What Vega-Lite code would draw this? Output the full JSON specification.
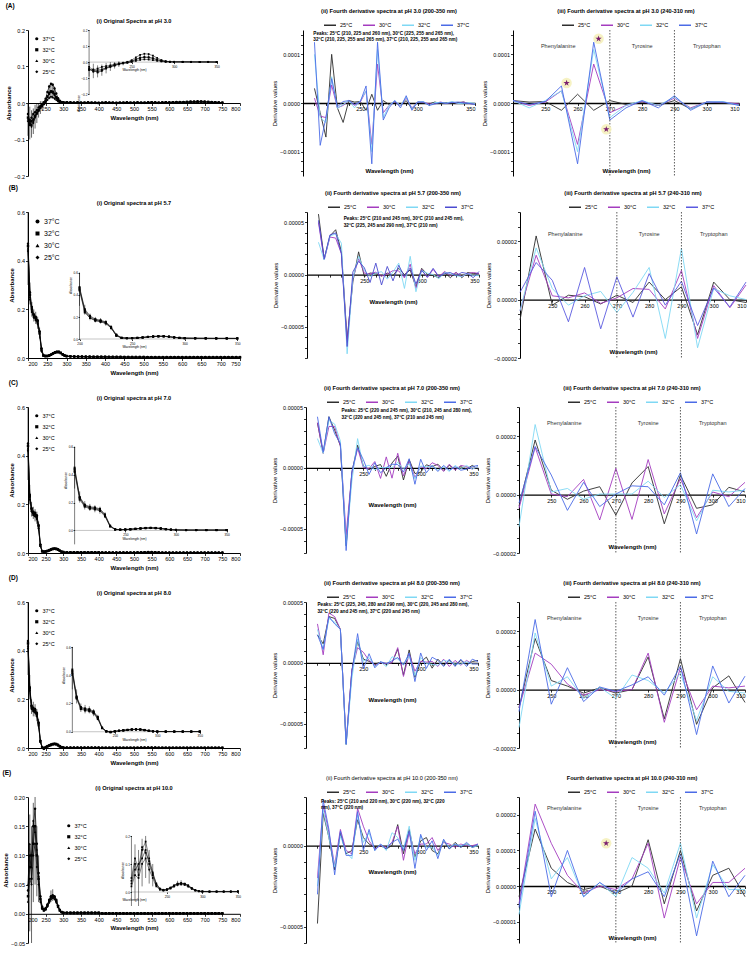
{
"$schema":"https://vega.github.io/schema/vega-lite/v6.json",
"padding":{"left":2,"top":2,"right":2,"bottom":2},
"config":{
 "font":"Liberation Sans",
 "view":{"stroke":null},
 "axis":{"grid":false,"labelOverlap":false,"labelFontSize":5.5,"titleFontSize":6,"tickSize":2.5,"tickWidth":0.8,"domainWidth":1,"domainColor":"#000","tickColor":"#000","labelColor":"#000","titleColor":"#000","labelPadding":1,"titlePadding":2,"titleFontWeight":"normal"},
 "title":{"fontSize":5.6,"fontWeight":"bold","offset":3,"color":"#000"},
 "legend":{"labelFontSize":5.5,"labelColor":"#000","padding":0,"offset":3,"rowPadding":1,"columnPadding":7,"labelOffset":3}
},
"resolve":{"scale":{"color":"independent","shape":"independent"},"legend":{"color":"independent","shape":"independent"}},
"datasets":{
 "dividers":[{"w":270},{"w":290}],
 "regions":[{"w":254,"label":"Phenylalanine"},{"w":280,"label":"Tyrosine"},{"w":300,"label":"Tryptophan"}],
 "starsA":[{"w":256.6,"v":4.1e-5},{"w":266.5,"v":1.32e-4},{"w":268.9,"v":-5.4e-5}],
 "starsE":[{"w":267,"v":1.2e-5}],
 "s3":[
{"w":200,"37°C":-0.03,"32°C":-0.04,"30°C":-0.045,"25°C":-0.05},
{"w":205,"37°C":-0.05,"32°C":-0.06,"30°C":-0.055,"25°C":-0.045},
{"w":210,"37°C":-0.04,"32°C":-0.05,"30°C":-0.06,"25°C":-0.065},
{"w":215,"37°C":-0.03,"32°C":-0.045,"30°C":-0.05,"25°C":-0.055},
{"w":220,"37°C":-0.025,"32°C":-0.035,"30°C":-0.035,"25°C":-0.04},
{"w":225,"37°C":-0.02,"32°C":-0.028,"30°C":-0.025,"25°C":-0.03},
{"w":230,"37°C":-0.012,"32°C":-0.02,"30°C":-0.018,"25°C":-0.022},
{"w":235,"37°C":-0.008,"32°C":-0.012,"30°C":-0.01,"25°C":-0.014},
{"w":240,"37°C":-0.004,"32°C":-0.007,"30°C":-0.006,"25°C":-0.008},
{"w":245,"37°C":0.002,"32°C":-0.002,"30°C":-0.002,"25°C":-0.004},
{"w":250,"37°C":0.012,"32°C":0.006,"30°C":0.004,"25°C":0.001},
{"w":255,"37°C":0.03,"32°C":0.018,"30°C":0.016,"25°C":0.008},
{"w":260,"37°C":0.045,"32°C":0.028,"30°C":0.025,"25°C":0.014},
{"w":265,"37°C":0.052,"32°C":0.032,"30°C":0.03,"25°C":0.017},
{"w":270,"37°C":0.05,"32°C":0.031,"30°C":0.028,"25°C":0.016},
{"w":275,"37°C":0.04,"32°C":0.025,"30°C":0.022,"25°C":0.012},
{"w":280,"37°C":0.026,"32°C":0.016,"30°C":0.014,"25°C":0.008},
{"w":285,"37°C":0.013,"32°C":0.009,"30°C":0.007,"25°C":0.004},
{"w":290,"37°C":0.006,"32°C":0.004,"30°C":0.003,"25°C":0.002},
{"w":295,"37°C":0.003,"32°C":0.002,"30°C":0.002,"25°C":0.001},
{"w":300,"37°C":0.002,"32°C":0.002,"30°C":0.001,"25°C":0.001},
{"w":310,"37°C":0.002,"32°C":0.002,"30°C":0.001,"25°C":0.001},
{"w":320,"37°C":0.002,"32°C":0.001,"30°C":0.001,"25°C":0.001},
{"w":330,"37°C":0.001,"32°C":0.001,"30°C":0.001,"25°C":0.001},
{"w":340,"37°C":0.002,"32°C":0.001,"30°C":0.001,"25°C":0},
{"w":350,"37°C":0.001,"32°C":0.001,"30°C":0,"25°C":0},
{"w":360,"37°C":0.001,"32°C":0.001,"30°C":0.001,"25°C":0},
{"w":370,"37°C":0.002,"32°C":0.001,"30°C":0.001,"25°C":0.001},
{"w":380,"37°C":0.001,"32°C":0.001,"30°C":0.001,"25°C":0},
{"w":390,"37°C":0.001,"32°C":0.001,"30°C":0,"25°C":0},
{"w":400,"37°C":0.001,"32°C":0,"30°C":0,"25°C":0},
{"w":410,"37°C":0.001,"32°C":0.001,"30°C":0,"25°C":0},
{"w":420,"37°C":0.002,"32°C":0.001,"30°C":0.001,"25°C":0},
{"w":430,"37°C":0.001,"32°C":0.001,"30°C":0.001,"25°C":0.001},
{"w":440,"37°C":0.001,"32°C":0.001,"30°C":0,"25°C":0},
{"w":450,"37°C":0.001,"32°C":0,"30°C":0,"25°C":0},
{"w":460,"37°C":0.001,"32°C":0.001,"30°C":0,"25°C":0},
{"w":470,"37°C":0.001,"32°C":0.001,"30°C":0.001,"25°C":0},
{"w":480,"37°C":0.002,"32°C":0.001,"30°C":0.001,"25°C":0.001},
{"w":490,"37°C":0.001,"32°C":0.001,"30°C":0,"25°C":0},
{"w":500,"37°C":0.001,"32°C":0.001,"30°C":0.001,"25°C":0},
{"w":510,"37°C":0.002,"32°C":0.001,"30°C":0.001,"25°C":0.001},
{"w":520,"37°C":0.001,"32°C":0.001,"30°C":0,"25°C":0},
{"w":530,"37°C":0.001,"32°C":0.001,"30°C":0.001,"25°C":0},
{"w":540,"37°C":0.002,"32°C":0.001,"30°C":0.001,"25°C":0.001},
{"w":550,"37°C":0.002,"32°C":0.002,"30°C":0.001,"25°C":0.001},
{"w":560,"37°C":0.002,"32°C":0.001,"30°C":0.001,"25°C":0.001},
{"w":570,"37°C":0.001,"32°C":0.001,"30°C":0.001,"25°C":0},
{"w":580,"37°C":0.002,"32°C":0.001,"30°C":0.001,"25°C":0.001},
{"w":590,"37°C":0.002,"32°C":0.002,"30°C":0.001,"25°C":0.001},
{"w":600,"37°C":0.002,"32°C":0.001,"30°C":0.001,"25°C":0.001},
{"w":610,"37°C":0.002,"32°C":0.002,"30°C":0.001,"25°C":0.001},
{"w":620,"37°C":0.003,"32°C":0.002,"30°C":0.001,"25°C":0.001},
{"w":630,"37°C":0.003,"32°C":0.002,"30°C":0.002,"25°C":0.001},
{"w":640,"37°C":0.003,"32°C":0.002,"30°C":0.002,"25°C":0.001},
{"w":650,"37°C":0.003,"32°C":0.003,"30°C":0.002,"25°C":0.001},
{"w":660,"37°C":0.004,"32°C":0.003,"30°C":0.002,"25°C":0.002},
{"w":670,"37°C":0.004,"32°C":0.003,"30°C":0.002,"25°C":0.002},
{"w":680,"37°C":0.005,"32°C":0.003,"30°C":0.003,"25°C":0.002},
{"w":690,"37°C":0.004,"32°C":0.004,"30°C":0.003,"25°C":0.002},
{"w":700,"37°C":0.004,"32°C":0.003,"30°C":0.003,"25°C":0.002},
{"w":710,"37°C":0.003,"32°C":0.003,"30°C":0.002,"25°C":0.002},
{"w":720,"37°C":0.003,"32°C":0.002,"30°C":0.002,"25°C":0.001},
{"w":730,"37°C":0.002,"32°C":0.002,"30°C":0.001,"25°C":0.001},
{"w":740,"37°C":0.002,"32°C":0.001,"30°C":0.001,"25°C":0.001},
{"w":750,"37°C":0.001,"32°C":0.001,"30°C":0.001,"25°C":0}
 ],
 "e3":[{"w":200,"lo":-0.09,"hi":0.0},{"w":205,"lo":-0.1,"hi":-0.01},{"w":210,"lo":-0.095,"hi":-0.02},{"w":215,"lo":-0.085,"hi":-0.015},{"w":220,"lo":-0.07,"hi":-0.005},{"w":225,"lo":-0.055,"hi":0.0},{"w":230,"lo":-0.04,"hi":0.0},{"w":235,"lo":-0.03,"hi":0.005},{"w":240,"lo":-0.02,"hi":0.005},{"w":260,"lo":0.01,"hi":0.05},{"w":265,"lo":0.012,"hi":0.057},{"w":270,"lo":0.012,"hi":0.055},{"w":275,"lo":0.008,"hi":0.045}],
 "s57":[
{"w":200,"37°C":0.47,"32°C":0.46,"30°C":0.45,"25°C":0.44},
{"w":205,"37°C":0.27,"32°C":0.26,"30°C":0.25,"25°C":0.24},
{"w":210,"37°C":0.21,"32°C":0.2,"30°C":0.19,"25°C":0.19},
{"w":215,"37°C":0.18,"32°C":0.175,"30°C":0.17,"25°C":0.165},
{"w":220,"37°C":0.17,"32°C":0.165,"30°C":0.16,"25°C":0.155},
{"w":225,"37°C":0.155,"32°C":0.15,"30°C":0.145,"25°C":0.14},
{"w":230,"37°C":0.11,"32°C":0.105,"30°C":0.1,"25°C":0.1},
{"w":235,"37°C":0.04,"32°C":0.035,"30°C":0.03,"25°C":0.03},
{"w":240,"37°C":0.012,"32°C":0.01,"30°C":0.01,"25°C":0.009},
{"w":245,"37°C":0.009,"32°C":0.008,"30°C":0.007,"25°C":0.007},
{"w":250,"37°C":0.009,"32°C":0.008,"30°C":0.008,"25°C":0.007},
{"w":255,"37°C":0.011,"32°C":0.01,"30°C":0.01,"25°C":0.009},
{"w":260,"37°C":0.015,"32°C":0.014,"30°C":0.013,"25°C":0.013},
{"w":265,"37°C":0.02,"32°C":0.019,"30°C":0.018,"25°C":0.018},
{"w":270,"37°C":0.024,"32°C":0.023,"30°C":0.022,"25°C":0.021},
{"w":275,"37°C":0.026,"32°C":0.025,"30°C":0.024,"25°C":0.023},
{"w":280,"37°C":0.026,"32°C":0.025,"30°C":0.024,"25°C":0.023},
{"w":285,"37°C":0.022,"32°C":0.021,"30°C":0.02,"25°C":0.02},
{"w":290,"37°C":0.016,"32°C":0.015,"30°C":0.014,"25°C":0.014},
{"w":295,"37°C":0.011,"32°C":0.01,"30°C":0.01,"25°C":0.009},
{"w":300,"37°C":0.008,"32°C":0.008,"30°C":0.007,"25°C":0.007},
{"w":310,"37°C":0.007,"32°C":0.007,"30°C":0.006,"25°C":0.006},
{"w":320,"37°C":0.007,"32°C":0.006,"30°C":0.006,"25°C":0.005},
{"w":330,"37°C":0.006,"32°C":0.006,"30°C":0.005,"25°C":0.005},
{"w":340,"37°C":0.006,"32°C":0.006,"30°C":0.005,"25°C":0.005},
{"w":350,"37°C":0.006,"32°C":0.005,"30°C":0.005,"25°C":0.005},
{"w":360,"37°C":0.006,"32°C":0.005,"30°C":0.005,"25°C":0.004},
{"w":370,"37°C":0.005,"32°C":0.005,"30°C":0.005,"25°C":0.004},
{"w":380,"37°C":0.005,"32°C":0.005,"30°C":0.004,"25°C":0.004},
{"w":390,"37°C":0.005,"32°C":0.005,"30°C":0.004,"25°C":0.004},
{"w":400,"37°C":0.005,"32°C":0.005,"30°C":0.004,"25°C":0.004},
{"w":410,"37°C":0.005,"32°C":0.004,"30°C":0.004,"25°C":0.004},
{"w":420,"37°C":0.005,"32°C":0.004,"30°C":0.004,"25°C":0.004},
{"w":430,"37°C":0.005,"32°C":0.004,"30°C":0.004,"25°C":0.003},
{"w":440,"37°C":0.005,"32°C":0.004,"30°C":0.004,"25°C":0.003},
{"w":450,"37°C":0.004,"32°C":0.004,"30°C":0.004,"25°C":0.003},
{"w":460,"37°C":0.004,"32°C":0.004,"30°C":0.004,"25°C":0.003},
{"w":470,"37°C":0.004,"32°C":0.004,"30°C":0.003,"25°C":0.003},
{"w":480,"37°C":0.004,"32°C":0.004,"30°C":0.003,"25°C":0.003},
{"w":490,"37°C":0.004,"32°C":0.004,"30°C":0.003,"25°C":0.003},
{"w":500,"37°C":0.004,"32°C":0.004,"30°C":0.003,"25°C":0.003},
{"w":510,"37°C":0.004,"32°C":0.003,"30°C":0.003,"25°C":0.003},
{"w":520,"37°C":0.004,"32°C":0.003,"30°C":0.003,"25°C":0.003},
{"w":530,"37°C":0.004,"32°C":0.003,"30°C":0.003,"25°C":0.003},
{"w":540,"37°C":0.004,"32°C":0.003,"30°C":0.003,"25°C":0.003},
{"w":550,"37°C":0.004,"32°C":0.003,"30°C":0.003,"25°C":0.003},
{"w":560,"37°C":0.004,"32°C":0.003,"30°C":0.003,"25°C":0.003},
{"w":570,"37°C":0.004,"32°C":0.003,"30°C":0.003,"25°C":0.003},
{"w":580,"37°C":0.004,"32°C":0.003,"30°C":0.003,"25°C":0.003},
{"w":590,"37°C":0.004,"32°C":0.003,"30°C":0.003,"25°C":0.003},
{"w":600,"37°C":0.004,"32°C":0.003,"30°C":0.003,"25°C":0.003},
{"w":610,"37°C":0.004,"32°C":0.003,"30°C":0.003,"25°C":0.003},
{"w":620,"37°C":0.004,"32°C":0.003,"30°C":0.003,"25°C":0.003},
{"w":630,"37°C":0.004,"32°C":0.003,"30°C":0.003,"25°C":0.003},
{"w":640,"37°C":0.004,"32°C":0.003,"30°C":0.003,"25°C":0.003},
{"w":650,"37°C":0.004,"32°C":0.003,"30°C":0.003,"25°C":0.003},
{"w":660,"37°C":0.004,"32°C":0.003,"30°C":0.003,"25°C":0.003},
{"w":670,"37°C":0.004,"32°C":0.003,"30°C":0.003,"25°C":0.003},
{"w":680,"37°C":0.004,"32°C":0.003,"30°C":0.003,"25°C":0.003},
{"w":690,"37°C":0.004,"32°C":0.003,"30°C":0.003,"25°C":0.003},
{"w":700,"37°C":0.004,"32°C":0.003,"30°C":0.003,"25°C":0.003},
{"w":710,"37°C":0.004,"32°C":0.003,"30°C":0.003,"25°C":0.003},
{"w":720,"37°C":0.004,"32°C":0.003,"30°C":0.003,"25°C":0.003},
{"w":730,"37°C":0.004,"32°C":0.003,"30°C":0.003,"25°C":0.003},
{"w":740,"37°C":0.004,"32°C":0.003,"30°C":0.003,"25°C":0.003},
{"w":750,"37°C":0.004,"32°C":0.003,"30°C":0.003,"25°C":0.003}
 ],
 "e57":[{"w":200,"lo":0.3,"hi":0.6},{"w":205,"lo":0.22,"hi":0.31},{"w":210,"lo":0.17,"hi":0.23},{"w":215,"lo":0.15,"hi":0.2},{"w":220,"lo":0.14,"hi":0.19},{"w":225,"lo":0.12,"hi":0.17},{"w":230,"lo":0.08,"hi":0.125},{"w":235,"lo":0.02,"hi":0.05},{"w":275,"lo":0.02,"hi":0.03},{"w":280,"lo":0.02,"hi":0.03}],
 "s70":[
{"w":200,"37°C":0.45,"32°C":0.44,"30°C":0.43,"25°C":0.42},
{"w":205,"37°C":0.24,"32°C":0.235,"30°C":0.23,"25°C":0.22},
{"w":210,"37°C":0.185,"32°C":0.18,"30°C":0.175,"25°C":0.17},
{"w":215,"37°C":0.17,"32°C":0.165,"30°C":0.16,"25°C":0.155},
{"w":220,"37°C":0.165,"32°C":0.16,"30°C":0.155,"25°C":0.15},
{"w":225,"37°C":0.155,"32°C":0.15,"30°C":0.145,"25°C":0.14},
{"w":230,"37°C":0.115,"32°C":0.11,"30°C":0.105,"25°C":0.1},
{"w":235,"37°C":0.035,"32°C":0.032,"30°C":0.03,"25°C":0.028},
{"w":240,"37°C":0.008,"32°C":0.007,"30°C":0.007,"25°C":0.006},
{"w":245,"37°C":0.006,"32°C":0.005,"30°C":0.005,"25°C":0.005},
{"w":250,"37°C":0.007,"32°C":0.006,"30°C":0.006,"25°C":0.006},
{"w":255,"37°C":0.009,"32°C":0.008,"30°C":0.008,"25°C":0.007},
{"w":260,"37°C":0.012,"32°C":0.011,"30°C":0.011,"25°C":0.01},
{"w":265,"37°C":0.015,"32°C":0.014,"30°C":0.014,"25°C":0.013},
{"w":270,"37°C":0.018,"32°C":0.017,"30°C":0.016,"25°C":0.016},
{"w":275,"37°C":0.019,"32°C":0.018,"30°C":0.017,"25°C":0.017},
{"w":280,"37°C":0.018,"32°C":0.017,"30°C":0.016,"25°C":0.016},
{"w":285,"37°C":0.015,"32°C":0.014,"30°C":0.013,"25°C":0.013},
{"w":290,"37°C":0.01,"32°C":0.009,"30°C":0.009,"25°C":0.008},
{"w":295,"37°C":0.006,"32°C":0.005,"30°C":0.005,"25°C":0.005},
{"w":300,"37°C":0.004,"32°C":0.004,"30°C":0.003,"25°C":0.003},
{"w":310,"37°C":0.003,"32°C":0.003,"30°C":0.002,"25°C":0.002},
{"w":320,"37°C":0.003,"32°C":0.003,"30°C":0.002,"25°C":0.002},
{"w":330,"37°C":0.003,"32°C":0.003,"30°C":0.002,"25°C":0.002},
{"w":340,"37°C":0.003,"32°C":0.003,"30°C":0.002,"25°C":0.002},
{"w":350,"37°C":0.003,"32°C":0.003,"30°C":0.002,"25°C":0.002},
{"w":360,"37°C":0.003,"32°C":0.003,"30°C":0.002,"25°C":0.002},
{"w":370,"37°C":0.003,"32°C":0.003,"30°C":0.002,"25°C":0.002},
{"w":380,"37°C":0.003,"32°C":0.003,"30°C":0.002,"25°C":0.002},
{"w":390,"37°C":0.003,"32°C":0.003,"30°C":0.002,"25°C":0.002},
{"w":400,"37°C":0.003,"32°C":0.003,"30°C":0.002,"25°C":0.002},
{"w":410,"37°C":0.002,"32°C":0.002,"30°C":0.002,"25°C":0.001},
{"w":420,"37°C":0.002,"32°C":0.002,"30°C":0.002,"25°C":0.001},
{"w":430,"37°C":0.002,"32°C":0.002,"30°C":0.002,"25°C":0.001},
{"w":440,"37°C":0.002,"32°C":0.002,"30°C":0.002,"25°C":0.001},
{"w":450,"37°C":0.002,"32°C":0.002,"30°C":0.002,"25°C":0.001},
{"w":460,"37°C":0.002,"32°C":0.002,"30°C":0.002,"25°C":0.001},
{"w":470,"37°C":0.002,"32°C":0.002,"30°C":0.002,"25°C":0.001},
{"w":480,"37°C":0.002,"32°C":0.002,"30°C":0.002,"25°C":0.001},
{"w":490,"37°C":0.002,"32°C":0.002,"30°C":0.002,"25°C":0.001},
{"w":500,"37°C":0.002,"32°C":0.002,"30°C":0.002,"25°C":0.001},
{"w":510,"37°C":0.003,"32°C":0.002,"30°C":0.002,"25°C":0.002},
{"w":520,"37°C":0.003,"32°C":0.002,"30°C":0.002,"25°C":0.002},
{"w":530,"37°C":0.003,"32°C":0.003,"30°C":0.002,"25°C":0.002},
{"w":540,"37°C":0.004,"32°C":0.003,"30°C":0.003,"25°C":0.002},
{"w":550,"37°C":0.004,"32°C":0.003,"30°C":0.003,"25°C":0.002},
{"w":560,"37°C":0.003,"32°C":0.003,"30°C":0.002,"25°C":0.002},
{"w":570,"37°C":0.003,"32°C":0.002,"30°C":0.002,"25°C":0.002},
{"w":580,"37°C":0.002,"32°C":0.001,"30°C":0.001,"25°C":0.001},
{"w":590,"37°C":0.002,"32°C":0.001,"30°C":0.001,"25°C":0.001},
{"w":600,"37°C":0.002,"32°C":0.001,"30°C":0.001,"25°C":0.001},
{"w":610,"37°C":0.002,"32°C":0.001,"30°C":0.001,"25°C":0.001},
{"w":620,"37°C":0.002,"32°C":0.001,"30°C":0.001,"25°C":0.001},
{"w":630,"37°C":0.002,"32°C":0.001,"30°C":0.001,"25°C":0.001},
{"w":640,"37°C":0.002,"32°C":0.001,"30°C":0.001,"25°C":0.001},
{"w":650,"37°C":0.002,"32°C":0.001,"30°C":0.001,"25°C":0.001},
{"w":660,"37°C":0.002,"32°C":0.001,"30°C":0.001,"25°C":0.001},
{"w":670,"37°C":0.002,"32°C":0.001,"30°C":0.001,"25°C":0.001},
{"w":680,"37°C":0.002,"32°C":0.001,"30°C":0.001,"25°C":0.001},
{"w":690,"37°C":0.002,"32°C":0.001,"30°C":0.001,"25°C":0.001},
{"w":700,"37°C":0.002,"32°C":0.001,"30°C":0.001,"25°C":0.001},
{"w":710,"37°C":0.002,"32°C":0.001,"30°C":0.001,"25°C":0.001},
{"w":720,"37°C":0.002,"32°C":0.001,"30°C":0.001,"25°C":0.001},
{"w":730,"37°C":0.002,"32°C":0.001,"30°C":0.001,"25°C":0.001},
{"w":740,"37°C":0.002,"32°C":0.001,"30°C":0.001,"25°C":0.001},
{"w":750,"37°C":0.002,"32°C":0.001,"30°C":0.001,"25°C":0.001}
 ],
 "e70":[{"w":200,"lo":0.3,"hi":0.6},{"w":205,"lo":0.2,"hi":0.28},{"w":210,"lo":0.15,"hi":0.21},{"w":215,"lo":0.14,"hi":0.19},{"w":220,"lo":0.13,"hi":0.18},{"w":225,"lo":0.12,"hi":0.17},{"w":230,"lo":0.09,"hi":0.13}],
 "s80":[
{"w":200,"37°C":0.44,"32°C":0.43,"30°C":0.42,"25°C":0.41},
{"w":205,"37°C":0.25,"32°C":0.245,"30°C":0.24,"25°C":0.235},
{"w":210,"37°C":0.175,"32°C":0.17,"30°C":0.165,"25°C":0.16},
{"w":215,"37°C":0.165,"32°C":0.16,"30°C":0.155,"25°C":0.15},
{"w":220,"37°C":0.16,"32°C":0.155,"30°C":0.15,"25°C":0.145},
{"w":225,"37°C":0.145,"32°C":0.14,"30°C":0.135,"25°C":0.13},
{"w":230,"37°C":0.105,"32°C":0.1,"30°C":0.095,"25°C":0.09},
{"w":235,"37°C":0.03,"32°C":0.028,"30°C":0.026,"25°C":0.025},
{"w":240,"37°C":0.004,"32°C":0.003,"30°C":0.002,"25°C":0.002},
{"w":245,"37°C":0,"32°C":-0.002,"30°C":-0.003,"25°C":-0.004},
{"w":250,"37°C":0.004,"32°C":0.003,"30°C":0.002,"25°C":0.002},
{"w":255,"37°C":0.008,"32°C":0.007,"30°C":0.006,"25°C":0.006},
{"w":260,"37°C":0.011,"32°C":0.01,"30°C":0.009,"25°C":0.009},
{"w":265,"37°C":0.014,"32°C":0.013,"30°C":0.012,"25°C":0.012},
{"w":270,"37°C":0.017,"32°C":0.016,"30°C":0.015,"25°C":0.015},
{"w":275,"37°C":0.018,"32°C":0.017,"30°C":0.016,"25°C":0.016},
{"w":280,"37°C":0.017,"32°C":0.016,"30°C":0.015,"25°C":0.015},
{"w":285,"37°C":0.013,"32°C":0.012,"30°C":0.011,"25°C":0.011},
{"w":290,"37°C":0.008,"32°C":0.007,"30°C":0.006,"25°C":0.006},
{"w":295,"37°C":0.004,"32°C":0.003,"30°C":0.003,"25°C":0.003},
{"w":300,"37°C":0.002,"32°C":0.002,"30°C":0.001,"25°C":0.001},
{"w":310,"37°C":0.002,"32°C":0.001,"30°C":0.001,"25°C":0.001},
{"w":320,"37°C":0.002,"32°C":0.001,"30°C":0.001,"25°C":0.001},
{"w":330,"37°C":0.002,"32°C":0.001,"30°C":0.001,"25°C":0.001},
{"w":340,"37°C":0.002,"32°C":0.001,"30°C":0.001,"25°C":0.001},
{"w":350,"37°C":0.002,"32°C":0.001,"30°C":0.001,"25°C":0.001},
{"w":360,"37°C":0.002,"32°C":0.001,"30°C":0.001,"25°C":0.001},
{"w":370,"37°C":0.002,"32°C":0.001,"30°C":0.001,"25°C":0.001},
{"w":380,"37°C":0.002,"32°C":0.001,"30°C":0.001,"25°C":0.001},
{"w":390,"37°C":0.002,"32°C":0.001,"30°C":0.001,"25°C":0.001},
{"w":400,"37°C":0.002,"32°C":0.001,"30°C":0.001,"25°C":0.001},
{"w":410,"37°C":0.001,"32°C":0.001,"30°C":0,"25°C":0},
{"w":420,"37°C":0.001,"32°C":0.001,"30°C":0,"25°C":0},
{"w":430,"37°C":0.001,"32°C":0.001,"30°C":0,"25°C":0},
{"w":440,"37°C":0.001,"32°C":0.001,"30°C":0,"25°C":0},
{"w":450,"37°C":0.001,"32°C":0.001,"30°C":0,"25°C":0},
{"w":460,"37°C":0.001,"32°C":0.001,"30°C":0,"25°C":0},
{"w":470,"37°C":0.001,"32°C":0.001,"30°C":0,"25°C":0},
{"w":480,"37°C":0.001,"32°C":0.001,"30°C":0,"25°C":0},
{"w":490,"37°C":0.001,"32°C":0.001,"30°C":0,"25°C":0},
{"w":500,"37°C":0.001,"32°C":0.001,"30°C":0,"25°C":0},
{"w":510,"37°C":0.001,"32°C":0.001,"30°C":0,"25°C":0},
{"w":520,"37°C":0.002,"32°C":0.001,"30°C":0.001,"25°C":0.001},
{"w":530,"37°C":0.002,"32°C":0.001,"30°C":0.001,"25°C":0.001},
{"w":540,"37°C":0.002,"32°C":0.001,"30°C":0.001,"25°C":0.001},
{"w":550,"37°C":0.002,"32°C":0.001,"30°C":0.001,"25°C":0.001},
{"w":560,"37°C":0.002,"32°C":0.001,"30°C":0.001,"25°C":0.001},
{"w":570,"37°C":0.001,"32°C":0.001,"30°C":0,"25°C":0},
{"w":580,"37°C":0.001,"32°C":0.001,"30°C":0,"25°C":0},
{"w":590,"37°C":0.001,"32°C":0.001,"30°C":0,"25°C":0},
{"w":600,"37°C":0.001,"32°C":0.001,"30°C":0,"25°C":0},
{"w":610,"37°C":0.001,"32°C":0.001,"30°C":0,"25°C":0},
{"w":620,"37°C":0.001,"32°C":0.001,"30°C":0,"25°C":0},
{"w":630,"37°C":0.001,"32°C":0.001,"30°C":0,"25°C":0},
{"w":640,"37°C":0.001,"32°C":0.001,"30°C":0,"25°C":0},
{"w":650,"37°C":0.001,"32°C":0.001,"30°C":0,"25°C":0},
{"w":660,"37°C":0.001,"32°C":0.001,"30°C":0,"25°C":0},
{"w":670,"37°C":0.001,"32°C":0.001,"30°C":0,"25°C":0},
{"w":680,"37°C":0.001,"32°C":0.001,"30°C":0,"25°C":0},
{"w":690,"37°C":0.001,"32°C":0.001,"30°C":0,"25°C":0},
{"w":700,"37°C":0.001,"32°C":0.001,"30°C":0,"25°C":0},
{"w":710,"37°C":0.001,"32°C":0.001,"30°C":0,"25°C":0},
{"w":720,"37°C":0.001,"32°C":0.001,"30°C":0,"25°C":0},
{"w":730,"37°C":0.001,"32°C":0.001,"30°C":0,"25°C":0},
{"w":740,"37°C":0.001,"32°C":0.001,"30°C":0,"25°C":0},
{"w":750,"37°C":0.001,"32°C":0.001,"30°C":0,"25°C":0}
 ],
 "e80":[{"w":200,"lo":0.3,"hi":0.6},{"w":205,"lo":0.2,"hi":0.3},{"w":210,"lo":0.14,"hi":0.2},{"w":215,"lo":0.13,"hi":0.19},{"w":220,"lo":0.13,"hi":0.18},{"w":225,"lo":0.11,"hi":0.16},{"w":230,"lo":0.08,"hi":0.12}],
 "s10":[
{"w":200,"37°C":0.04,"32°C":0.03,"30°C":0.05,"25°C":0.02},
{"w":205,"37°C":0.1,"32°C":0.08,"30°C":0.12,"25°C":0.06},
{"w":210,"37°C":0.06,"32°C":0.1,"30°C":0.08,"25°C":0.05},
{"w":215,"37°C":0.15,"32°C":0.12,"30°C":0.16,"25°C":0.1},
{"w":220,"37°C":0.18,"32°C":0.15,"30°C":0.14,"25°C":0.12},
{"w":225,"37°C":0.12,"32°C":0.1,"30°C":0.11,"25°C":0.08},
{"w":230,"37°C":0.07,"32°C":0.06,"30°C":0.065,"25°C":0.05},
{"w":235,"37°C":0.03,"32°C":0.025,"30°C":0.03,"25°C":0.02},
{"w":240,"37°C":0.012,"32°C":0.01,"30°C":0.012,"25°C":0.008},
{"w":245,"37°C":0.008,"32°C":0.006,"30°C":0.007,"25°C":0.005},
{"w":250,"37°C":0.01,"32°C":0.008,"30°C":0.009,"25°C":0.007},
{"w":255,"37°C":0.016,"32°C":0.014,"30°C":0.015,"25°C":0.012},
{"w":260,"37°C":0.024,"32°C":0.022,"30°C":0.023,"25°C":0.019},
{"w":265,"37°C":0.03,"32°C":0.028,"30°C":0.029,"25°C":0.025},
{"w":270,"37°C":0.032,"32°C":0.03,"30°C":0.031,"25°C":0.027},
{"w":275,"37°C":0.03,"32°C":0.028,"30°C":0.029,"25°C":0.025},
{"w":280,"37°C":0.024,"32°C":0.022,"30°C":0.023,"25°C":0.019},
{"w":285,"37°C":0.014,"32°C":0.013,"30°C":0.013,"25°C":0.011},
{"w":290,"37°C":0.007,"32°C":0.006,"30°C":0.006,"25°C":0.005},
{"w":295,"37°C":0.003,"32°C":0.003,"30°C":0.003,"25°C":0.002},
{"w":300,"37°C":0.002,"32°C":0.002,"30°C":0.002,"25°C":0.001},
{"w":310,"37°C":0.002,"32°C":0.002,"30°C":0.001,"25°C":0.001},
{"w":320,"37°C":0.002,"32°C":0.002,"30°C":0.001,"25°C":0.001},
{"w":330,"37°C":0.002,"32°C":0.002,"30°C":0.001,"25°C":0.001},
{"w":340,"37°C":0.002,"32°C":0.002,"30°C":0.001,"25°C":0.001},
{"w":350,"37°C":0.002,"32°C":0.002,"30°C":0.001,"25°C":0.001},
{"w":360,"37°C":0.002,"32°C":0.002,"30°C":0.001,"25°C":0.001},
{"w":370,"37°C":0.002,"32°C":0.002,"30°C":0.001,"25°C":0.001},
{"w":380,"37°C":0.002,"32°C":0.002,"30°C":0.001,"25°C":0.001},
{"w":390,"37°C":0.002,"32°C":0.002,"30°C":0.001,"25°C":0.001},
{"w":400,"37°C":0.002,"32°C":0.002,"30°C":0.001,"25°C":0.001},
{"w":410,"37°C":0.001,"32°C":0.001,"30°C":0.001,"25°C":0},
{"w":420,"37°C":0.001,"32°C":0.001,"30°C":0.001,"25°C":0},
{"w":430,"37°C":0.001,"32°C":0.001,"30°C":0.001,"25°C":0},
{"w":440,"37°C":0.001,"32°C":0.001,"30°C":0.001,"25°C":0},
{"w":450,"37°C":0.001,"32°C":0.001,"30°C":0.001,"25°C":0},
{"w":460,"37°C":0.001,"32°C":0.001,"30°C":0.001,"25°C":0},
{"w":470,"37°C":0.001,"32°C":0.001,"30°C":0.001,"25°C":0},
{"w":480,"37°C":0.001,"32°C":0.001,"30°C":0.001,"25°C":0},
{"w":490,"37°C":0.001,"32°C":0.001,"30°C":0.001,"25°C":0},
{"w":500,"37°C":0.001,"32°C":0.001,"30°C":0.001,"25°C":0},
{"w":510,"37°C":0.001,"32°C":0.001,"30°C":0.001,"25°C":0},
{"w":520,"37°C":0.001,"32°C":0.001,"30°C":0.001,"25°C":0},
{"w":530,"37°C":0.001,"32°C":0.001,"30°C":0.001,"25°C":0},
{"w":540,"37°C":0.001,"32°C":0.001,"30°C":0.001,"25°C":0},
{"w":550,"37°C":0.001,"32°C":0.001,"30°C":0.001,"25°C":0},
{"w":560,"37°C":0.001,"32°C":0.001,"30°C":0.001,"25°C":0},
{"w":570,"37°C":0.001,"32°C":0.001,"30°C":0.001,"25°C":0},
{"w":580,"37°C":0.001,"32°C":0.001,"30°C":0.001,"25°C":0},
{"w":590,"37°C":0.001,"32°C":0.001,"30°C":0.001,"25°C":0},
{"w":600,"37°C":0.001,"32°C":0.001,"30°C":0.001,"25°C":0},
{"w":610,"37°C":0.001,"32°C":0.001,"30°C":0.001,"25°C":0},
{"w":620,"37°C":0.001,"32°C":0.001,"30°C":0.001,"25°C":0},
{"w":630,"37°C":0.001,"32°C":0.001,"30°C":0.001,"25°C":0},
{"w":640,"37°C":0.001,"32°C":0.001,"30°C":0.001,"25°C":0},
{"w":650,"37°C":0.001,"32°C":0.001,"30°C":0.001,"25°C":0},
{"w":660,"37°C":0.001,"32°C":0.001,"30°C":0.001,"25°C":0},
{"w":670,"37°C":0.001,"32°C":0.001,"30°C":0.001,"25°C":0},
{"w":680,"37°C":0.001,"32°C":0.001,"30°C":0.001,"25°C":0},
{"w":690,"37°C":0.001,"32°C":0.001,"30°C":0.001,"25°C":0},
{"w":700,"37°C":0.001,"32°C":0.001,"30°C":0.001,"25°C":0},
{"w":710,"37°C":0.001,"32°C":0.001,"30°C":0.001,"25°C":0},
{"w":720,"37°C":0.001,"32°C":0.001,"30°C":0.001,"25°C":0},
{"w":730,"37°C":0.001,"32°C":0.001,"30°C":0.001,"25°C":0},
{"w":740,"37°C":0.001,"32°C":0.001,"30°C":0.001,"25°C":0},
{"w":750,"37°C":0.001,"32°C":0.001,"30°C":0.001,"25°C":0}
 ],
 "e10":[{"w":205,"lo":-0.03,"hi":0.17},{"w":210,"lo":-0.05,"hi":0.15},{"w":215,"lo":0.02,"hi":0.19},{"w":220,"lo":0.05,"hi":0.2},{"w":225,"lo":0.03,"hi":0.15},{"w":230,"lo":0.02,"hi":0.1},{"w":265,"lo":0.02,"hi":0.04},{"w":270,"lo":0.022,"hi":0.042}],
 "d3":[
{"w":210,"25°C":3e-5,"30°C":1e-5,"32°C":1e-4,"37°C":1.25e-4},
{"w":215,"25°C":-2e-5,"30°C":-2.7e-5,"32°C":-3e-5,"37°C":-8.7e-5},
{"w":220,"25°C":-7e-5,"30°C":-3e-5,"32°C":-4e-5,"37°C":-3e-5},
{"w":225,"25°C":1e-4,"30°C":3.7e-5,"32°C":5.4e-5,"37°C":5e-5},
{"w":230,"25°C":-1e-5,"30°C":-1e-5,"32°C":-1.1e-5,"37°C":-8e-6},
{"w":235,"25°C":-4e-5,"30°C":-5e-6,"32°C":-3e-6,"37°C":3e-6},
{"w":240,"25°C":5e-6,"30°C":5e-6,"32°C":5e-6,"37°C":5e-6},
{"w":245,"25°C":2e-6,"30°C":-5e-6,"32°C":-1e-5,"37°C":-3e-6},
{"w":250,"25°C":3e-6,"30°C":2e-6,"32°C":5e-6,"37°C":3e-6},
{"w":255,"25°C":-1.5e-5,"30°C":2.5e-5,"32°C":2.5e-5,"37°C":3.5e-5},
{"w":260,"25°C":1.8e-5,"30°C":-8.5e-5,"32°C":-1e-4,"37°C":-1.25e-4},
{"w":265,"25°C":-1.5e-5,"30°C":8e-5,"32°C":1.1e-4,"37°C":1.25e-4},
{"w":270,"25°C":5e-6,"30°C":-2e-5,"32°C":-3e-5,"37°C":-3.5e-5},
{"w":275,"25°C":-3e-6,"30°C":-5e-6,"32°C":-5e-6,"37°C":-1e-5},
{"w":280,"25°C":2e-6,"30°C":3e-6,"32°C":5e-6,"37°C":5e-6},
{"w":285,"25°C":-5e-6,"30°C":-5e-6,"32°C":-5e-6,"37°C":-1e-5},
{"w":290,"25°C":5e-6,"30°C":1e-5,"32°C":1.2e-5,"37°C":1.5e-5},
{"w":295,"25°C":-1.2e-5,"30°C":-1e-5,"32°C":-1.2e-5,"37°C":-1.5e-5},
{"w":300,"25°C":2e-6,"30°C":2e-6,"32°C":2e-6,"37°C":2e-6},
{"w":305,"25°C":0,"30°C":2e-6,"32°C":3e-6,"37°C":2e-6},
{"w":310,"25°C":-2e-6,"30°C":-2e-6,"32°C":-5e-6,"37°C":-5e-6},
{"w":315,"25°C":2e-6,"30°C":-1e-6,"32°C":1e-6,"37°C":-2e-6},
{"w":320,"25°C":-1e-6,"30°C":2e-6,"32°C":1e-6,"37°C":1e-6},
{"w":325,"25°C":1e-6,"30°C":-1e-6,"32°C":0,"37°C":-1e-6},
{"w":330,"25°C":-1e-6,"30°C":2e-6,"32°C":3e-6,"37°C":1e-6},
{"w":335,"25°C":1e-6,"30°C":-1e-6,"32°C":-1e-6,"37°C":2e-6},
{"w":340,"25°C":2e-6,"30°C":2e-6,"32°C":-1e-6,"37°C":0},
{"w":345,"25°C":-1e-6,"30°C":-1e-6,"32°C":1e-6,"37°C":-1e-6},
{"w":350,"25°C":-2e-6,"30°C":-2e-6,"32°C":-1e-6,"37°C":-3e-6}
 ],
 "d57":[
{"w":210,"25°C":5.8e-5,"30°C":5e-5,"32°C":3.1e-5,"37°C":5.2e-5},
{"w":215,"25°C":1.5e-5,"30°C":1.4e-5,"32°C":1.4e-5,"37°C":1.5e-5},
{"w":220,"25°C":3.7e-5,"30°C":3.6e-5,"32°C":3.7e-5,"37°C":3.8e-5},
{"w":225,"25°C":4.3e-5,"30°C":3.5e-5,"32°C":3.9e-5,"37°C":4e-5},
{"w":230,"25°C":2.2e-5,"30°C":2e-5,"32°C":3e-5,"37°C":2e-5},
{"w":235,"25°C":-6.2e-5,"30°C":-6.5e-5,"32°C":-7.6e-5,"37°C":-6.9e-5},
{"w":240,"25°C":-7e-6,"30°C":-3.8e-6,"32°C":-3.8e-6,"37°C":2.5e-6},
{"w":245,"25°C":2.18e-5,"30°C":1.52e-5,"32°C":1.77e-5,"37°C":1.27e-5},
{"w":250,"25°C":-1.9e-6,"30°C":1.3e-6,"32°C":3.8e-6,"37°C":6.6e-6},
{"w":255,"25°C":1.5e-6,"30°C":6e-7,"32°C":-1.9e-6,"37°C":-7.6e-6},
{"w":260,"25°C":1e-6,"30°C":2.3e-6,"32°C":1.3e-6,"37°C":1.1e-5},
{"w":265,"25°C":-1.5e-6,"30°C":-1.3e-6,"32°C":2.8e-6,"37°C":-1e-5},
{"w":270,"25°C":1.5e-6,"30°C":6e-7,"32°C":-4.4e-6,"37°C":7.8e-6},
{"w":275,"25°C":-1e-6,"30°C":3.8e-6,"32°C":2.5e-6,"37°C":-6e-6},
{"w":280,"25°C":6e-6,"30°C":3.5e-6,"32°C":1.1e-5,"37°C":8.9e-6},
{"w":285,"25°C":0,"30°C":-3.2e-6,"32°C":-1.33e-5,"37°C":-1.9e-6},
{"w":290,"25°C":4.4e-6,"30°C":1e-5,"32°C":1.75e-5,"37°C":6.3e-6},
{"w":295,"25°C":-1.2e-5,"30°C":-1.33e-5,"32°C":-1.65e-5,"37°C":-8.9e-6},
{"w":300,"25°C":6e-6,"30°C":4.8e-6,"32°C":3.8e-6,"37°C":4e-6},
{"w":305,"25°C":0,"30°C":-2.8e-6,"32°C":1.3e-6,"37°C":-2.5e-6},
{"w":310,"25°C":-1e-6,"30°C":5e-6,"32°C":0,"37°C":6e-6},
{"w":315,"25°C":-3e-6,"30°C":-2e-6,"32°C":-4e-6,"37°C":-2e-6},
{"w":320,"25°C":2e-6,"30°C":3e-6,"32°C":2e-6,"37°C":1e-6},
{"w":325,"25°C":-3e-6,"30°C":-1e-6,"32°C":1e-6,"37°C":2e-6},
{"w":330,"25°C":2e-6,"30°C":2e-6,"32°C":-1e-6,"37°C":-1e-6},
{"w":335,"25°C":-3e-6,"30°C":-2e-6,"32°C":-2e-6,"37°C":2e-6},
{"w":340,"25°C":2e-6,"30°C":1e-6,"32°C":1e-6,"37°C":1e-6},
{"w":345,"25°C":1e-6,"30°C":2e-6,"32°C":-1e-6,"37°C":-3e-6},
{"w":350,"25°C":1e-6,"30°C":1e-6,"32°C":-1e-6,"37°C":3e-6}
 ],
 "d70":[
{"w":210,"25°C":3.7e-5,"30°C":3.7e-5,"32°C":2.4e-5,"37°C":4.2e-5},
{"w":215,"25°C":1.2e-5,"30°C":1.2e-5,"32°C":1.2e-5,"37°C":1.3e-5},
{"w":220,"25°C":4.2e-5,"30°C":3.4e-5,"32°C":3.9e-5,"37°C":4.2e-5},
{"w":225,"25°C":3.1e-5,"30°C":3.4e-5,"32°C":3.6e-5,"37°C":2.8e-5},
{"w":230,"25°C":1.8e-5,"30°C":1.8e-5,"32°C":2.2e-5,"37°C":2e-5},
{"w":235,"25°C":-6.4e-5,"30°C":-5.5e-5,"32°C":-6.4e-5,"37°C":-6.8e-5},
{"w":240,"25°C":-4e-6,"30°C":-4.7e-6,"32°C":-1.1e-5,"37°C":-2.9e-6},
{"w":245,"25°C":1.87e-5,"30°C":1.62e-5,"32°C":2.4e-5,"37°C":1.65e-5},
{"w":250,"25°C":1.5e-6,"30°C":2e-7,"32°C":9e-7,"37°C":6.7e-6},
{"w":255,"25°C":-1.6e-6,"30°C":-7e-7,"32°C":2.1e-6,"37°C":-5.4e-6},
{"w":260,"25°C":1.2e-6,"30°C":5.2e-6,"32°C":-1.6e-6,"37°C":4.2e-6},
{"w":265,"25°C":2.7e-6,"30°C":-8.7e-6,"32°C":2e-7,"37°C":-4.1e-6},
{"w":270,"25°C":-7e-6,"30°C":9e-6,"32°C":2e-7,"37°C":2e-7},
{"w":275,"25°C":4e-6,"30°C":-8.5e-6,"32°C":2e-7,"37°C":3e-6},
{"w":280,"25°C":9.6e-6,"30°C":1.2e-5,"32°C":4.6e-6,"37°C":2.7e-6},
{"w":285,"25°C":-1e-5,"30°C":-6.6e-6,"32°C":-1e-6,"37°C":-3.5e-6},
{"w":290,"25°C":6.7e-6,"30°C":5.5e-6,"32°C":3.4e-6,"37°C":7.5e-6},
{"w":295,"25°C":-4.7e-6,"30°C":-7.9e-6,"32°C":-9e-6,"37°C":-1.35e-5},
{"w":300,"25°C":-3.5e-6,"30°C":9e-7,"32°C":1.5e-6,"37°C":7.1e-6},
{"w":305,"25°C":2.5e-6,"30°C":-7e-7,"32°C":9e-7,"37°C":-4.1e-6},
{"w":310,"25°C":9e-7,"30°C":4.2e-6,"32°C":1.5e-6,"37°C":2.1e-6},
{"w":315,"25°C":3e-6,"30°C":2e-6,"32°C":-2e-6,"37°C":-3e-6},
{"w":320,"25°C":-2e-6,"30°C":-3e-6,"32°C":1e-6,"37°C":2e-6},
{"w":325,"25°C":2e-6,"30°C":3e-6,"32°C":-3e-6,"37°C":-2e-6},
{"w":330,"25°C":-1e-6,"30°C":-2e-6,"32°C":2e-6,"37°C":1e-6},
{"w":335,"25°C":1e-6,"30°C":2e-6,"32°C":-1e-6,"37°C":-2e-6},
{"w":340,"25°C":-1e-6,"30°C":1e-6,"32°C":2e-6,"37°C":-1e-6},
{"w":345,"25°C":2e-6,"30°C":-1e-6,"32°C":-1e-6,"37°C":1e-6},
{"w":350,"25°C":-1e-6,"30°C":1e-6,"32°C":1e-6,"37°C":2e-6}
 ],
 "d80":[
{"w":210,"25°C":2.3e-5,"30°C":3.2e-5,"32°C":2.75e-5,"37°C":2.3e-5},
{"w":215,"25°C":1.56e-5,"30°C":6.6e-6,"32°C":1.1e-5,"37°C":1.1e-5},
{"w":220,"25°C":3.8e-5,"30°C":4.1e-5,"32°C":3.65e-5,"37°C":3.8e-5},
{"w":225,"25°C":3.65e-5,"30°C":3.8e-5,"32°C":3.35e-5,"37°C":3.2e-5},
{"w":230,"25°C":2.75e-5,"30°C":2.75e-5,"32°C":2.75e-5,"37°C":2.75e-5},
{"w":235,"25°C":-6.7e-5,"30°C":-6.5e-5,"32°C":-6.7e-5,"37°C":-6.7e-5},
{"w":240,"25°C":-6.2e-6,"30°C":-6.2e-6,"32°C":-1.3e-5,"37°C":-7.5e-6},
{"w":245,"25°C":1.75e-5,"30°C":1.25e-5,"32°C":1.94e-5,"37°C":2.4e-5},
{"w":250,"25°C":3.1e-6,"30°C":8.7e-6,"32°C":1.2e-6,"37°C":-5e-6},
{"w":255,"25°C":1.2e-6,"30°C":1.9e-6,"32°C":4.4e-6,"37°C":7.5e-6},
{"w":260,"25°C":-1.2e-6,"30°C":-1.9e-6,"32°C":-3.1e-6,"37°C":-4.1e-6},
{"w":265,"25°C":6e-7,"30°C":0,"32°C":9e-7,"37°C":9e-7},
{"w":270,"25°C":-1.2e-6,"30°C":-6e-7,"32°C":-3.1e-6,"37°C":-6e-7},
{"w":275,"25°C":0,"30°C":0,"32°C":5e-6,"37°C":1.6e-6},
{"w":280,"25°C":1.12e-5,"30°C":1.25e-5,"32°C":3.1e-6,"37°C":4.4e-6},
{"w":285,"25°C":-1e-5,"30°C":-1.12e-5,"32°C":-1.2e-6,"37°C":-1.9e-6},
{"w":290,"25°C":1.06e-5,"30°C":7.5e-6,"32°C":5.6e-6,"37°C":8.1e-6},
{"w":295,"25°C":-1.19e-5,"30°C":-6.9e-6,"32°C":-1.06e-5,"37°C":-1.54e-5},
{"w":300,"25°C":6e-7,"30°C":1.2e-6,"32°C":4.4e-6,"37°C":8.1e-6},
{"w":305,"25°C":4.7e-6,"30°C":6e-7,"32°C":-6e-7,"37°C":-4.6e-6},
{"w":310,"25°C":-4.4e-6,"30°C":1.2e-6,"32°C":-1.2e-6,"37°C":4.6e-6},
{"w":315,"25°C":3e-6,"30°C":-3e-6,"32°C":-2e-6,"37°C":2e-6},
{"w":320,"25°C":-2e-6,"30°C":3e-6,"32°C":2e-6,"37°C":-3e-6},
{"w":325,"25°C":2e-6,"30°C":-3e-6,"32°C":1e-6,"37°C":3e-6},
{"w":330,"25°C":-2e-6,"30°C":2e-6,"32°C":-1e-6,"37°C":-3e-6},
{"w":335,"25°C":2e-6,"30°C":-2e-6,"32°C":-1e-6,"37°C":3e-6},
{"w":340,"25°C":-1e-6,"30°C":2e-6,"32°C":1e-6,"37°C":-3e-6},
{"w":345,"25°C":1e-6,"30°C":-1e-6,"32°C":-1e-6,"37°C":3e-6},
{"w":350,"25°C":2e-6,"30°C":-1e-6,"32°C":-1e-6,"37°C":1e-6}
 ],
 "d10":[
{"w":210,"25°C":-4.8e-5,"30°C":-2e-5,"32°C":-2.5e-5,"37°C":-3e-5},
{"w":215,"25°C":2e-5,"30°C":2.5e-5,"32°C":2.2e-5,"37°C":2.8e-5},
{"w":220,"25°C":5e-6,"30°C":8e-6,"32°C":5e-6,"37°C":1e-5},
{"w":225,"25°C":-1.5e-5,"30°C":-1.2e-5,"32°C":-1.3e-5,"37°C":-1.8e-5},
{"w":230,"25°C":8e-6,"30°C":1e-5,"32°C":6e-6,"37°C":9e-6},
{"w":235,"25°C":-5e-6,"30°C":-3e-6,"32°C":-4e-6,"37°C":-6e-6},
{"w":240,"25°C":-3e-6,"30°C":-5e-6,"32°C":-8e-6,"37°C":-6e-6},
{"w":245,"25°C":1.6e-5,"30°C":2.3e-5,"32°C":1.9e-5,"37°C":2.1e-5},
{"w":250,"25°C":5e-6,"30°C":1.2e-5,"32°C":2e-6,"37°C":-3e-6},
{"w":255,"25°C":1e-6,"30°C":3e-6,"32°C":8e-6,"37°C":1e-5},
{"w":260,"25°C":-1e-6,"30°C":-2e-6,"32°C":-3e-6,"37°C":-3e-6},
{"w":265,"25°C":0,"30°C":0,"32°C":1e-6,"37°C":1e-6},
{"w":270,"25°C":-2e-6,"30°C":-1e-6,"32°C":-3e-6,"37°C":-2e-6},
{"w":275,"25°C":0,"30°C":2e-6,"32°C":8e-6,"37°C":2e-6},
{"w":280,"25°C":1.3e-5,"30°C":1.2e-5,"32°C":5e-6,"37°C":4e-6},
{"w":285,"25°C":-5e-6,"30°C":-9e-6,"32°C":-2e-6,"37°C":-3e-6},
{"w":290,"25°C":1e-5,"30°C":8e-6,"32°C":1.2e-5,"37°C":9e-6},
{"w":295,"25°C":-7e-6,"30°C":-5e-6,"32°C":-9e-6,"37°C":-1.4e-5},
{"w":300,"25°C":3e-6,"30°C":1e-6,"32°C":6e-6,"37°C":7e-6},
{"w":305,"25°C":5e-6,"30°C":1e-6,"32°C":-1e-6,"37°C":-3e-6},
{"w":310,"25°C":-3e-6,"30°C":5e-6,"32°C":-1e-6,"37°C":3e-6},
{"w":315,"25°C":-5e-6,"30°C":-3e-6,"32°C":-6e-6,"37°C":-8e-6},
{"w":320,"25°C":3e-6,"30°C":2e-6,"32°C":3e-6,"37°C":4e-6},
{"w":325,"25°C":-2e-6,"30°C":1e-6,"32°C":-1e-6,"37°C":-2e-6},
{"w":330,"25°C":2e-6,"30°C":-1e-6,"32°C":1e-6,"37°C":1e-6},
{"w":335,"25°C":-1e-6,"30°C":1e-6,"32°C":0,"37°C":-1e-6},
{"w":340,"25°C":1e-6,"30°C":0,"32°C":1e-6,"37°C":2e-6},
{"w":345,"25°C":-1e-6,"30°C":0,"32°C":-1e-6,"37°C":-1e-6},
{"w":350,"25°C":0,"30°C":1e-6,"32°C":0,"37°C":1e-6}
 ]
},
"spacing":4,
"vconcat":[
{"title":{"text":"(A)","anchor":"start","fontSize":6.5,"offset":0},"spacing":30,
 "resolve":{"scale":{"color":"independent","shape":"independent"},"legend":{"color":"independent","shape":"independent"}},
 "hconcat":[
 {"width":212,"height":146,"title":"(i) Original  Spectra at pH 3.0",
  "layer":[
   {"data":{"name":"s3"},"transform":[{"fold":["37°C","32°C","30°C","25°C"],"as":["T","a"]}],
    "layer":[
     {"mark":{"type":"line","color":"#000","strokeWidth":0.7},
      "encoding":{"x":{"field":"w","type":"quantitative","scale":{"domain":[200,800],"nice":false},"axis":{"tickCount":40,"labelOverlap":false,"values":[250,300,350,400,450,500,550,600,650,700,750,800],"offset":-73,"title":"Wavelength (nm)","titleFontWeight":"bold"}},
       "y":{"field":"a","type":"quantitative","scale":{"domain":[-0.2,0.2],"nice":false},"axis":{"tickCount":40,"labelOverlap":false,"values":[-0.2,-0.1,0,0.1,0.2],"format":".1f","title":"Absorbance","titleFontWeight":"bold"}},
       "detail":{"field":"T"}}},
     {"mark":{"type":"point","filled":true,"color":"#000","size":6,"opacity":1},
      "encoding":{"x":{"field":"w","type":"quantitative"},"y":{"field":"a","type":"quantitative"},
       "shape":{"field":"T","type":"nominal","scale":{"domain":["37°C","32°C","30°C","25°C"],"range":["circle","square","triangle-up","diamond"]},"legend":{"orient":"top-left","title":null,"offset":6,"symbolSize":10,"labelFontSize":5.5}}}},
     {"data":{"name":"e3"},"mark":{"type":"rule","color":"#000","strokeWidth":0.6},
      "encoding":{"x":{"field":"w","type":"quantitative"},"y":{"field":"lo","type":"quantitative"},"y2":{"field":"hi"}}}
    ]},
   {"layer":[
     {"data":{"values":[{}]},"mark":{"type":"rule","color":"#888","strokeWidth":0.5},
      "encoding":{"x":{"datum":200,"type":"quantitative","scale":{"domain":[128.2,377.4],"nice":false},"axis":{"tickCount":40,"labelOverlap":false,"orient":"bottom","offset":-113.9,"values":[250,300,350],"domain":false,"title":"Wavelength (nm)","labelFontSize":3.2,"titleFontSize":3.2,"tickSize":1.5,"labelPadding":0.5,"titlePadding":0.5,"labelFlush":false}},
       "x2":{"datum":350},
       "y":{"datum":0,"type":"quantitative","scale":{"domain":[-0.709,0.2],"nice":false},"axis":{"tickCount":40,"labelOverlap":false,"orient":"left","offset":-61,"values":[-0.2,-0.1,0,0.1,0.2],"format":".1f","domain":false,"title":"Absorbance","labelFontSize":3.2,"titleFontSize":3.2,"tickSize":1.5,"labelPadding":0.5,"titlePadding":0.5}}}},
     {"data":{"values":[{}]},"mark":{"type":"rule","color":"#000","strokeWidth":0.5},
      "encoding":{"x":{"datum":200,"type":"quantitative"},"y":{"datum":-0.2,"type":"quantitative"},"y2":{"datum":0.2}}},
     {"data":{"name":"s3"},"transform":[{"fold":["37°C","32°C","30°C","25°C"],"as":["T","a"]},{"filter":"datum.w <= 350"}],
      "mark":{"type":"line","color":"#000","strokeWidth":0.5},
      "encoding":{"x":{"field":"w","type":"quantitative"},"y":{"field":"a","type":"quantitative"},"detail":{"field":"T"}}},
     {"data":{"name":"s3"},"transform":[{"fold":["37°C","32°C","30°C","25°C"],"as":["T","a"]},{"filter":"datum.w <= 350"}],
      "mark":{"type":"point","shape":"square","filled":true,"color":"#000","size":3,"opacity":1},
      "encoding":{"x":{"field":"w","type":"quantitative"},"y":{"field":"a","type":"quantitative"}}},
     {"data":{"name":"e3"},"transform":[{"filter":"datum.w <= 350"}],"mark":{"type":"rule","color":"#000","strokeWidth":0.5},
      "encoding":{"x":{"field":"w","type":"quantitative"},"y":{"field":"lo","type":"quantitative"},"y2":{"field":"hi"}}}
   ]}
  ],
  "resolve":{"scale":{"x":"independent","y":"independent"}}},
 {"spacing":4,
  "resolve":{"scale":{"color":"independent"},"legend":{"color":"independent"}},
  "hconcat":[
  {"width":172,"height":146,"title":"(ii) Fourth derivative spectra at pH 3.0 (200-350 nm)",
   "layer":[
    {"data":{"name":"d3"},"transform":[{"fold":["25°C","30°C","32°C","37°C"],"as":["T","v"]}],
     "mark":{"type":"line","strokeWidth":0.9},
     "encoding":{"x":{"field":"w","type":"quantitative","scale":{"domain":[200,350],"nice":false},"axis":{"tickCount":40,"labelOverlap":false,"values":[210,220,230,240,250,260,270,280,290,300,310,320,330,340,350],"labelExpr":"datum.value % 50 == 0 ? datum.label : ''","offset":-73,"title":"Wavelength (nm)","titleY":64,"titleFontWeight":"bold","domainWidth":1.3}},
      "y":{"field":"v","type":"quantitative","scale":{"domain":[-0.00015,0.00015],"nice":false},"axis":{"tickCount":40,"labelOverlap":false,"values":[-0.00014,-0.00012,-0.0001,-0.00008,-0.00006,-0.00004,-0.00002,0,0.00002,0.00004,0.00006,0.00008,0.0001,0.00012,0.00014],"labelExpr":"abs(datum.value) < 1e-9 || abs(abs(datum.value) - 0.0001) < 1e-9 ? datum.label : ''","format":".4f","title":"Derivative values"}},
      "color":{"field":"T","type":"nominal","scale":{"domain":["25°C","30°C","32°C","37°C"],"range":["#2e2e2e","#a43cbf","#7fd8f4","#4b6be6"]},"legend":{"orient":"none","legendX":20,"legendY":-12,"direction":"horizontal","title":null,"symbolType":"stroke","symbolStrokeWidth":1.5,"symbolSize":144}}}},
    {"data":{"values":[{}]},"mark":{"type":"text","align":"left","baseline":"top","fontSize":4.7,"fontWeight":"bold","lineHeight":6.5,"color":"#000"},
     "encoding":{"x":{"datum":209,"type":"quantitative"},"y":{"datum":0.000148,"type":"quantitative"},"text":{"value":["Peaks: 25°C (210, 225 and 260 nm), 30°C (225, 255 and 265 nm),","32°C (210, 225, 255 and 265 nm), 37°C (210, 225, 255 and 265 nm)"]}}}
   ]},
  {"width":226,"height":146,"title":"(iii) Fourth derivative spectra at pH 3.0 (240-310 nm)",
   "layer":[
    {"data":{"name":"d3"},"transform":[{"fold":["25°C","30°C","32°C","37°C"],"as":["T","v"]},{"filter":"datum.w >= 240 && datum.w <= 310"}],
     "mark":{"type":"line","strokeWidth":0.9},
     "encoding":{"x":{"field":"w","type":"quantitative","scale":{"domain":[240,310],"nice":false},"axis":{"tickCount":40,"labelOverlap":false,"values":[250,260,270,280,290,300,310],"offset":-73,"title":"Wavelength (nm)","titleY":64,"titleFontWeight":"bold","domainWidth":1.3}},
      "y":{"field":"v","type":"quantitative","scale":{"domain":[-0.00015,0.00015],"nice":false},"axis":{"tickCount":40,"labelOverlap":false,"values":[-0.00014,-0.00012,-0.0001,-0.00008,-0.00006,-0.00004,-0.00002,0,0.00002,0.00004,0.00006,0.00008,0.0001,0.00012,0.00014],"labelExpr":"abs(datum.value) < 1e-9 || abs(abs(datum.value) - 0.0001) < 1e-9 ? datum.label : ''","format":".4f","title":"Derivative values"}},
      "color":{"field":"T","type":"nominal","scale":{"domain":["25°C","30°C","32°C","37°C"],"range":["#2e2e2e","#a43cbf","#7fd8f4","#4b6be6"]},"legend":{"orient":"none","legendX":48,"legendY":-12,"direction":"horizontal","title":null,"symbolType":"stroke","symbolStrokeWidth":1.5,"symbolSize":144}}}},
    {"data":{"name":"dividers"},"mark":{"type":"rule","strokeDash":[1.5,1.5],"color":"#333","strokeWidth":0.8},"encoding":{"x":{"field":"w","type":"quantitative"}}},
    {"data":{"name":"regions"},"mark":{"type":"text","fontSize":5.5,"color":"#333"},"encoding":{"x":{"field":"w","type":"quantitative"},"y":{"datum":0.000117,"type":"quantitative"},"text":{"field":"label"}}},
    {"data":{"name":"starsA"},"mark":{"type":"point","shape":"circle","filled":true,"color":"#f4f0b8","opacity":0.85,"size":110},"encoding":{"x":{"field":"w","type":"quantitative"},"y":{"field":"v","type":"quantitative"}}},
    {"data":{"name":"starsA"},"mark":{"type":"point","shape":"M0,-1L0.2245,-0.309L0.951,-0.309L0.363,0.118L0.588,0.809L0,0.382L-0.588,0.809L-0.363,0.118L-0.951,-0.309L-0.2245,-0.309Z","filled":true,"color":"#7a1f6f","opacity":1,"size":45},"encoding":{"x":{"field":"w","type":"quantitative"},"y":{"field":"v","type":"quantitative"}}}
   ]}
 ]}
 ]},
{"title":{"text":"(B)","anchor":"start","fontSize":6.5,"offset":0},"spacing":30,
 "resolve":{"scale":{"color":"independent","shape":"independent"},"legend":{"color":"independent","shape":"independent"}},
 "hconcat":[
 {"width":212,"height":146,"title":"(i) Original spectra at pH 5.7",
  "layer":[
   {"data":{"name":"s57"},"transform":[{"fold":["37°C","32°C","30°C","25°C"],"as":["T","a"]}],
    "layer":[
     {"mark":{"type":"line","color":"#000","strokeWidth":0.7},
      "encoding":{"x":{"field":"w","type":"quantitative","scale":{"domain":[200,750],"nice":false},"axis":{"tickCount":40,"labelOverlap":false,"values":[200,250,300,350,400,450,500,550,600,650,700,750],"title":"Wavelength (nm)","titleFontWeight":"bold"}},
       "y":{"field":"a","type":"quantitative","scale":{"domain":[0,0.6],"nice":false},"axis":{"tickCount":40,"labelOverlap":false,"values":[0,0.2,0.4,0.6],"format":".1f","title":"Absorbance","titleFontWeight":"bold"}},
       "detail":{"field":"T"}}},
     {"mark":{"type":"point","filled":true,"color":"#000","size":6,"opacity":1},
      "encoding":{"x":{"field":"w","type":"quantitative"},"y":{"field":"a","type":"quantitative"},
       "shape":{"field":"T","type":"nominal","scale":{"domain":["37°C","32°C","30°C","25°C"],"range":["circle","square","triangle-up","diamond"]},"legend":{"orient":"top-left","title":null,"offset":6,"symbolSize":16,"labelFontSize":7}}}},
     {"data":{"name":"e57"},"mark":{"type":"rule","color":"#000","strokeWidth":0.6},
      "encoding":{"x":{"field":"w","type":"quantitative"},"y":{"field":"lo","type":"quantitative"},"y2":{"field":"hi"}}}
    ]},
   {"layer":[
     {"data":{"values":[{}]},"mark":{"type":"rule","color":"#888","strokeWidth":0.5},
      "encoding":{"x":{"datum":200,"type":"quantitative","scale":{"domain":[151,352.6],"nice":false},"axis":{"tickCount":40,"labelOverlap":false,"orient":"bottom","offset":-19,"values":[200,250,300,350],"domain":false,"title":"Wavelength (nm)","labelFontSize":3.2,"titleFontSize":3.2,"tickSize":1.5,"labelPadding":0.5,"titlePadding":0.5,"labelFlush":false}},
       "x2":{"datum":350},
       "y":{"datum":0,"type":"quantitative","scale":{"domain":[-0.172,1.15],"nice":false},"axis":{"tickCount":40,"labelOverlap":false,"orient":"left","offset":-51.5,"values":[0,0.2,0.4,0.6],"format":".1f","domain":false,"title":"Absorbance","labelFontSize":3.2,"titleFontSize":3.2,"tickSize":1.5,"labelPadding":0.5,"titlePadding":0.5}}}},
     {"data":{"values":[{}]},"mark":{"type":"rule","color":"#000","strokeWidth":0.5},
      "encoding":{"x":{"datum":200,"type":"quantitative"},"y":{"datum":0,"type":"quantitative"},"y2":{"datum":0.6}}},
     {"data":{"name":"s57"},"transform":[{"fold":["37°C","32°C","30°C","25°C"],"as":["T","a"]},{"filter":"datum.w <= 350"}],
      "mark":{"type":"line","color":"#000","strokeWidth":0.5},
      "encoding":{"x":{"field":"w","type":"quantitative"},"y":{"field":"a","type":"quantitative"},"detail":{"field":"T"}}},
     {"data":{"name":"s57"},"transform":[{"fold":["37°C","32°C","30°C","25°C"],"as":["T","a"]},{"filter":"datum.w <= 350"}],
      "mark":{"type":"point","shape":"square","filled":true,"color":"#000","size":4,"opacity":1},
      "encoding":{"x":{"field":"w","type":"quantitative"},"y":{"field":"a","type":"quantitative"}}},
     {"data":{"name":"e57"},"transform":[{"filter":"datum.w <= 350"}],"mark":{"type":"rule","color":"#000","strokeWidth":0.5},
      "encoding":{"x":{"field":"w","type":"quantitative"},"y":{"field":"lo","type":"quantitative"},"y2":{"field":"hi"}}}
   ]}
  ],
  "resolve":{"scale":{"x":"independent","y":"independent"}}},
 {"spacing":4,
  "resolve":{"scale":{"color":"independent"},"legend":{"color":"independent"}},
  "hconcat":[
  {"width":172,"height":146,"title":"(ii) Fourth derivative spectra at pH 5.7 (200-350 nm)",
   "layer":[
    {"data":{"name":"d57"},"transform":[{"fold":["25°C","30°C","32°C","37°C"],"as":["T","v"]}],
     "mark":{"type":"line","strokeWidth":0.9},
     "encoding":{"x":{"field":"w","type":"quantitative","scale":{"domain":[200,350],"nice":false},"axis":{"tickCount":40,"labelOverlap":false,"values":[210,220,230,240,250,260,270,280,290,300,310,320,330,340,350],"labelExpr":"datum.value % 50 == 0 ? datum.label : ''","offset":-83.4,"title":"Wavelength (nm)","titleY":24,"titleFontWeight":"bold","domainWidth":1.3}},
      "y":{"field":"v","type":"quantitative","scale":{"domain":[-0.00008,0.00006],"nice":false},"axis":{"tickCount":40,"labelOverlap":false,"values":[-0.00008,-0.00007,-0.00006,-0.00005,-0.00004,-0.00003,-0.00002,-0.00001,0,0.00001,0.00002,0.00003,0.00004,0.00005,0.00006],"labelExpr":"abs(datum.value) < 1e-9 || abs(abs(datum.value) - 0.00005) < 1e-9 ? datum.label : ''","format":".5f","title":"Derivative values"}},
      "color":{"field":"T","type":"nominal","scale":{"domain":["25°C","30°C","32°C","37°C"],"range":["#2e2e2e","#a43cbf","#7fd8f4","#4b4bd0"]},"legend":{"orient":"none","legendX":20,"legendY":-12,"direction":"horizontal","title":null,"symbolType":"stroke","symbolStrokeWidth":1.5,"symbolSize":144}}}},
    {"data":{"values":[{}]},"mark":{"type":"text","align":"left","baseline":"top","fontSize":4.7,"fontWeight":"bold","lineHeight":6.5,"color":"#000"},
     "encoding":{"x":{"datum":232,"type":"quantitative"},"y":{"datum":0.000056,"type":"quantitative"},"text":{"value":["Peaks: 25°C (210 and 245 nm), 30°C (210 and 245 nm),","32°C (225, 245 and 290 nm), 37°C (210 nm)"]}}}
   ]},
  {"width":226,"height":146,"title":"(iii) Fourth derivative spectra at pH 5.7 (240-310 nm)",
   "layer":[
    {"data":{"name":"d57"},"transform":[{"fold":["25°C","30°C","32°C","37°C"],"as":["T","v"]},{"filter":"datum.w >= 240 && datum.w <= 310"}],
     "mark":{"type":"line","strokeWidth":0.9},
     "encoding":{"x":{"field":"w","type":"quantitative","scale":{"domain":[240,310],"nice":false},"axis":{"tickCount":40,"labelOverlap":false,"values":[250,260,270,280,290,300,310],"offset":-58.4,"title":"Wavelength (nm)","titleY":49,"titleFontWeight":"bold","domainWidth":1.3}},
      "y":{"field":"v","type":"quantitative","scale":{"domain":[-0.00002,0.00003],"nice":false},"axis":{"tickCount":40,"labelOverlap":false,"values":[-0.00002,-0.000015,-0.00001,-0.000005,0,0.000005,0.00001,0.000015,0.00002,0.000025,0.00003],"labelExpr":"abs(datum.value) < 1e-10 || abs(abs(datum.value) - 0.00002) < 1e-10 ? datum.label : ''","format":".5f","title":"Derivative values"}},
      "color":{"field":"T","type":"nominal","scale":{"domain":["25°C","30°C","32°C","37°C"],"range":["#2e2e2e","#a43cbf","#7fd8f4","#5a5ae0"]},"legend":{"orient":"none","legendX":48,"legendY":-12,"direction":"horizontal","title":null,"symbolType":"stroke","symbolStrokeWidth":1.5,"symbolSize":144}}}},
    {"data":{"name":"dividers"},"mark":{"type":"rule","strokeDash":[1.5,1.5],"color":"#333","strokeWidth":0.8},"encoding":{"x":{"field":"w","type":"quantitative"}}},
    {"data":{"name":"regions"},"mark":{"type":"text","fontSize":5.5,"color":"#333"},"encoding":{"x":{"field":"w","type":"quantitative"},"y":{"datum":0.0000225,"type":"quantitative"},"text":{"field":"label"}}}
   ]}
 ]}
 ]},
{"title":{"text":"(C)","anchor":"start","fontSize":6.5,"offset":0},"spacing":30,
 "resolve":{"scale":{"color":"independent","shape":"independent"},"legend":{"color":"independent","shape":"independent"}},
 "hconcat":[
 {"width":212,"height":146,"title":"(i) Original spectra at pH 7.0",
  "layer":[
   {"data":{"name":"s70"},"transform":[{"fold":["37°C","32°C","30°C","25°C"],"as":["T","a"]}],
    "layer":[
     {"mark":{"type":"line","color":"#000","strokeWidth":0.7},
      "encoding":{"x":{"field":"w","type":"quantitative","scale":{"domain":[200,800],"nice":false},"axis":{"tickCount":40,"labelOverlap":false,"values":[200,250,300,350,400,450,500,550,600,650,700,750,800],"title":"Wavelength (nm)","titleFontWeight":"bold"}},
       "y":{"field":"a","type":"quantitative","scale":{"domain":[0,0.6],"nice":false},"axis":{"tickCount":40,"labelOverlap":false,"values":[0,0.2,0.4,0.6],"format":".1f","title":"Absorbance","titleFontWeight":"bold"}},
       "detail":{"field":"T"}}},
     {"mark":{"type":"point","filled":true,"color":"#000","size":6,"opacity":1},
      "encoding":{"x":{"field":"w","type":"quantitative"},"y":{"field":"a","type":"quantitative"},
       "shape":{"field":"T","type":"nominal","scale":{"domain":["37°C","32°C","30°C","25°C"],"range":["circle","square","triangle-up","diamond"]},"legend":{"orient":"top-left","title":null,"offset":6,"symbolSize":10,"labelFontSize":5.5}}}},
     {"data":{"name":"e70"},"mark":{"type":"rule","color":"#000","strokeWidth":0.6},
      "encoding":{"x":{"field":"w","type":"quantitative"},"y":{"field":"lo","type":"quantitative"},"y2":{"field":"hi"}}}
    ]},
   {"layer":[
     {"data":{"values":[{}]},"mark":{"type":"rule","color":"#888","strokeWidth":0.5},
      "encoding":{"x":{"datum":200,"type":"quantitative","scale":{"domain":[154,363.2],"nice":false},"axis":{"tickCount":40,"labelOverlap":false,"orient":"bottom","offset":-22.6,"values":[250,300,350],"domain":false,"title":"Wavelength (nm)","labelFontSize":3.2,"titleFontSize":3.2,"tickSize":1.5,"labelPadding":0.5,"titlePadding":0.5,"labelFlush":false}},
       "x2":{"datum":350},
       "y":{"datum":0,"type":"quantitative","scale":{"domain":[-0.162,0.885],"nice":false},"axis":{"tickCount":40,"labelOverlap":false,"orient":"left","offset":-46.6,"values":[0,0.2,0.4,0.6],"format":".1f","domain":false,"title":"Absorbance","labelFontSize":3.2,"titleFontSize":3.2,"tickSize":1.5,"labelPadding":0.5,"titlePadding":0.5}}}},
     {"data":{"values":[{}]},"mark":{"type":"rule","color":"#000","strokeWidth":0.5},
      "encoding":{"x":{"datum":200,"type":"quantitative"},"y":{"datum":-0.1,"type":"quantitative"},"y2":{"datum":0.6}}},
     {"data":{"name":"s70"},"transform":[{"fold":["37°C","32°C","30°C","25°C"],"as":["T","a"]},{"filter":"datum.w <= 350"}],
      "mark":{"type":"line","color":"#000","strokeWidth":0.5},
      "encoding":{"x":{"field":"w","type":"quantitative"},"y":{"field":"a","type":"quantitative"},"detail":{"field":"T"}}},
     {"data":{"name":"s70"},"transform":[{"fold":["37°C","32°C","30°C","25°C"],"as":["T","a"]},{"filter":"datum.w <= 350"}],
      "mark":{"type":"point","shape":"square","filled":true,"color":"#000","size":4,"opacity":1},
      "encoding":{"x":{"field":"w","type":"quantitative"},"y":{"field":"a","type":"quantitative"}}},
     {"data":{"name":"e70"},"transform":[{"filter":"datum.w <= 350"}],"mark":{"type":"rule","color":"#000","strokeWidth":0.5},
      "encoding":{"x":{"field":"w","type":"quantitative"},"y":{"field":"lo","type":"quantitative"},"y2":{"field":"hi"}}}
   ]}
  ],
  "resolve":{"scale":{"x":"independent","y":"independent"}}},
 {"spacing":4,
  "resolve":{"scale":{"color":"independent"},"legend":{"color":"independent"}},
  "hconcat":[
  {"width":172,"height":146,"title":"(ii) Fourth derivative spectra at pH 7.0 (200-350 nm)",
   "layer":[
    {"data":{"name":"d70"},"transform":[{"fold":["25°C","30°C","32°C","37°C"],"as":["T","v"]}],
     "mark":{"type":"line","strokeWidth":0.9},
     "encoding":{"x":{"field":"w","type":"quantitative","scale":{"domain":[200,350],"nice":false},"axis":{"tickCount":40,"labelOverlap":false,"values":[210,220,230,240,250,260,270,280,290,300,310,320,330,340,350],"labelExpr":"datum.value % 50 == 0 ? datum.label : ''","offset":-85.2,"title":"Wavelength (nm)","titleY":34,"titleFontWeight":"bold","domainWidth":1.3}},
      "y":{"field":"v","type":"quantitative","scale":{"domain":[-0.00007,0.00005],"nice":false},"axis":{"tickCount":40,"labelOverlap":false,"values":[-0.00007,-0.00006,-0.00005,-0.00004,-0.00003,-0.00002,-0.00001,0,0.00001,0.00002,0.00003,0.00004,0.00005],"labelExpr":"abs(datum.value) < 1e-9 || abs(abs(datum.value) - 0.00005) < 1e-9 ? datum.label : ''","format":".5f","title":"Derivative values"}},
      "color":{"field":"T","type":"nominal","scale":{"domain":["25°C","30°C","32°C","37°C"],"range":["#2e2e2e","#a43cbf","#7fd8f4","#4b6be6"]},"legend":{"orient":"none","legendX":20,"legendY":-12,"direction":"horizontal","title":null,"symbolType":"stroke","symbolStrokeWidth":1.5,"symbolSize":144}}}},
    {"data":{"values":[{}]},"mark":{"type":"text","align":"left","baseline":"top","fontSize":4.7,"fontWeight":"bold","lineHeight":6.5,"color":"#000"},
     "encoding":{"x":{"datum":231,"type":"quantitative"},"y":{"datum":0.000049,"type":"quantitative"},"text":{"value":["Peaks: 25°C (220 and 245 nm), 30°C (210, 245 and 280 nm),","32°C (220 and 245 nm), 37°C (210 and 245 nm)"]}}}
   ]},
  {"width":226,"height":146,"title":"(iii) Fourth derivative spectra at pH 7.0 (240-310 nm)",
   "layer":[
    {"data":{"name":"d70"},"transform":[{"fold":["25°C","30°C","32°C","37°C"],"as":["T","v"]},{"filter":"datum.w >= 240 && datum.w <= 310"}],
     "mark":{"type":"line","strokeWidth":0.9},
     "encoding":{"x":{"field":"w","type":"quantitative","scale":{"domain":[240,310],"nice":false},"axis":{"tickCount":40,"labelOverlap":false,"values":[250,260,270,280,290,300,310],"offset":-58.4,"title":"Wavelength (nm)","titleY":49,"titleFontWeight":"bold","domainWidth":1.3}},
      "y":{"field":"v","type":"quantitative","scale":{"domain":[-0.00002,0.00003],"nice":false},"axis":{"tickCount":40,"labelOverlap":false,"values":[-0.00002,-0.000015,-0.00001,-0.000005,0,0.000005,0.00001,0.000015,0.00002,0.000025,0.00003],"labelExpr":"abs(datum.value) < 1e-10 || abs(abs(datum.value) - 0.00002) < 1e-10 ? datum.label : ''","format":".5f","title":"Derivative values"}},
      "color":{"field":"T","type":"nominal","scale":{"domain":["25°C","30°C","32°C","37°C"],"range":["#2e2e2e","#a43cbf","#7fd8f4","#4b6be6"]},"legend":{"orient":"none","legendX":48,"legendY":-12,"direction":"horizontal","title":null,"symbolType":"stroke","symbolStrokeWidth":1.5,"symbolSize":144}}}},
    {"data":{"name":"dividers"},"mark":{"type":"rule","strokeDash":[1.5,1.5],"color":"#333","strokeWidth":0.8},"encoding":{"x":{"field":"w","type":"quantitative"}}},
    {"data":{"name":"regions"},"mark":{"type":"text","fontSize":5.5,"color":"#333"},"encoding":{"x":{"field":"w","type":"quantitative"},"y":{"datum":0.0000244,"type":"quantitative"},"text":{"field":"label"}}}
   ]}
 ]}
 ]},
{"title":{"text":"(D)","anchor":"start","fontSize":6.5,"offset":0},"spacing":30,
 "resolve":{"scale":{"color":"independent","shape":"independent"},"legend":{"color":"independent","shape":"independent"}},
 "hconcat":[
 {"width":212,"height":146,"title":"(i) Original spectra at pH 8.0",
  "layer":[
   {"data":{"name":"s80"},"transform":[{"fold":["37°C","32°C","30°C","25°C"],"as":["T","a"]}],
    "layer":[
     {"mark":{"type":"line","color":"#000","strokeWidth":0.7},
      "encoding":{"x":{"field":"w","type":"quantitative","scale":{"domain":[200,800],"nice":false},"axis":{"tickCount":40,"labelOverlap":false,"values":[200,250,300,350,400,450,500,550,600,650,700,750,800],"title":"Wavelength (nm)","titleFontWeight":"bold"}},
       "y":{"field":"a","type":"quantitative","scale":{"domain":[0,0.6],"nice":false},"axis":{"tickCount":40,"labelOverlap":false,"values":[0,0.2,0.4,0.6],"format":".1f","title":"Absorbance","titleFontWeight":"bold"}},
       "detail":{"field":"T"}}},
     {"mark":{"type":"point","filled":true,"color":"#000","size":6,"opacity":1},
      "encoding":{"x":{"field":"w","type":"quantitative"},"y":{"field":"a","type":"quantitative"},
       "shape":{"field":"T","type":"nominal","scale":{"domain":["37°C","32°C","30°C","25°C"],"range":["circle","square","triangle-up","diamond"]},"legend":{"orient":"top-left","title":null,"offset":6,"symbolSize":10,"labelFontSize":5.5}}}},
     {"data":{"name":"e80"},"mark":{"type":"rule","color":"#000","strokeWidth":0.6},
      "encoding":{"x":{"field":"w","type":"quantitative"},"y":{"field":"lo","type":"quantitative"},"y2":{"field":"hi"}}}
    ]},
   {"layer":[
     {"data":{"values":[{}]},"mark":{"type":"rule","color":"#888","strokeWidth":0.5},
      "encoding":{"x":{"datum":200,"type":"quantitative","scale":{"domain":[147.8,397.4],"nice":false},"axis":{"tickCount":40,"labelOverlap":false,"orient":"bottom","offset":-16.2,"values":[250,300,350],"domain":false,"title":"Wavelength (nm)","labelFontSize":3.2,"titleFontSize":3.2,"tickSize":1.5,"labelPadding":0.5,"titlePadding":0.5,"labelFlush":false}},
       "x2":{"datum":350},
       "y":{"datum":0,"type":"quantitative","scale":{"domain":[-0.115,0.918],"nice":false},"axis":{"tickCount":40,"labelOverlap":false,"orient":"left","offset":-44.3,"values":[0,0.2,0.4,0.6],"format":".1f","domain":false,"title":"Absorbance","labelFontSize":3.2,"titleFontSize":3.2,"tickSize":1.5,"labelPadding":0.5,"titlePadding":0.5}}}},
     {"data":{"values":[{}]},"mark":{"type":"rule","color":"#000","strokeWidth":0.5},
      "encoding":{"x":{"datum":200,"type":"quantitative"},"y":{"datum":0,"type":"quantitative"},"y2":{"datum":0.6}}},
     {"data":{"name":"s80"},"transform":[{"fold":["37°C","32°C","30°C","25°C"],"as":["T","a"]},{"filter":"datum.w <= 350"}],
      "mark":{"type":"line","color":"#000","strokeWidth":0.5},
      "encoding":{"x":{"field":"w","type":"quantitative"},"y":{"field":"a","type":"quantitative"},"detail":{"field":"T"}}},
     {"data":{"name":"s80"},"transform":[{"fold":["37°C","32°C","30°C","25°C"],"as":["T","a"]},{"filter":"datum.w <= 350"}],
      "mark":{"type":"point","shape":"square","filled":true,"color":"#000","size":4,"opacity":1},
      "encoding":{"x":{"field":"w","type":"quantitative"},"y":{"field":"a","type":"quantitative"}}},
     {"data":{"name":"e80"},"transform":[{"filter":"datum.w <= 350"}],"mark":{"type":"rule","color":"#000","strokeWidth":0.5},
      "encoding":{"x":{"field":"w","type":"quantitative"},"y":{"field":"lo","type":"quantitative"},"y2":{"field":"hi"}}}
   ]}
  ],
  "resolve":{"scale":{"x":"independent","y":"independent"}}},
 {"spacing":4,
  "resolve":{"scale":{"color":"independent"},"legend":{"color":"independent"}},
  "hconcat":[
  {"width":172,"height":146,"title":"(ii) Fourth derivative spectra at pH 8.0 (200-350 nm)",
   "layer":[
    {"data":{"name":"d80"},"transform":[{"fold":["25°C","30°C","32°C","37°C"],"as":["T","v"]}],
     "mark":{"type":"line","strokeWidth":0.9},
     "encoding":{"x":{"field":"w","type":"quantitative","scale":{"domain":[200,350],"nice":false},"axis":{"tickCount":40,"labelOverlap":false,"values":[210,220,230,240,250,260,270,280,290,300,310,320,330,340,350],"labelExpr":"datum.value % 50 == 0 ? datum.label : ''","offset":-85.2,"title":"Wavelength (nm)","titleY":34,"titleFontWeight":"bold","domainWidth":1.3}},
      "y":{"field":"v","type":"quantitative","scale":{"domain":[-0.00007,0.00005],"nice":false},"axis":{"tickCount":40,"labelOverlap":false,"values":[-0.00007,-0.00006,-0.00005,-0.00004,-0.00003,-0.00002,-0.00001,0,0.00001,0.00002,0.00003,0.00004,0.00005],"labelExpr":"abs(datum.value) < 1e-9 || abs(abs(datum.value) - 0.00005) < 1e-9 ? datum.label : ''","format":".5f","title":"Derivative values"}},
      "color":{"field":"T","type":"nominal","scale":{"domain":["25°C","30°C","32°C","37°C"],"range":["#2e2e2e","#a43cbf","#7fd8f4","#4b6be6"]},"legend":{"orient":"none","legendX":20,"legendY":-12,"direction":"horizontal","title":null,"symbolType":"stroke","symbolStrokeWidth":1.5,"symbolSize":144}}}},
    {"data":{"values":[{}]},"mark":{"type":"text","align":"left","baseline":"top","fontSize":4.7,"fontWeight":"bold","lineHeight":6.5,"color":"#000"},
     "encoding":{"x":{"datum":210,"type":"quantitative"},"y":{"datum":0.00005,"type":"quantitative"},"text":{"value":["Peaks: 25°C (225, 245, 280 and 290 nm), 30°C (220, 245 and 280 nm),","32°C (220 and 245 nm), 37°C (220 and 245 nm)"]}}}
   ]},
  {"width":226,"height":146,"title":"(iii) Fourth derivative spectra at pH 8.0 (240-310 nm)",
   "layer":[
    {"data":{"name":"d80"},"transform":[{"fold":["25°C","30°C","32°C","37°C"],"as":["T","v"]},{"filter":"datum.w >= 240 && datum.w <= 310"}],
     "mark":{"type":"line","strokeWidth":0.9},
     "encoding":{"x":{"field":"w","type":"quantitative","scale":{"domain":[240,310],"nice":false},"axis":{"tickCount":40,"labelOverlap":false,"values":[250,260,270,280,290,300,310],"offset":-58.4,"title":"Wavelength (nm)","titleY":49,"titleFontWeight":"bold","domainWidth":1.3}},
      "y":{"field":"v","type":"quantitative","scale":{"domain":[-0.00002,0.00003],"nice":false},"axis":{"tickCount":40,"labelOverlap":false,"values":[-0.00002,-0.000015,-0.00001,-0.000005,0,0.000005,0.00001,0.000015,0.00002,0.000025,0.00003],"labelExpr":"abs(datum.value) < 1e-10 || abs(abs(datum.value) - 0.00002) < 1e-10 ? datum.label : ''","format":".5f","title":"Derivative values"}},
      "color":{"field":"T","type":"nominal","scale":{"domain":["25°C","30°C","32°C","37°C"],"range":["#2e2e2e","#a43cbf","#7fd8f4","#4b6be6"]},"legend":{"orient":"none","legendX":48,"legendY":-12,"direction":"horizontal","title":null,"symbolType":"stroke","symbolStrokeWidth":1.5,"symbolSize":144}}}},
    {"data":{"name":"dividers"},"mark":{"type":"rule","strokeDash":[1.5,1.5],"color":"#333","strokeWidth":0.8},"encoding":{"x":{"field":"w","type":"quantitative"}}},
    {"data":{"name":"regions"},"mark":{"type":"text","fontSize":5.5,"color":"#333"},"encoding":{"x":{"field":"w","type":"quantitative"},"y":{"datum":0.0000244,"type":"quantitative"},"text":{"field":"label"}}}
   ]}
 ]}
 ]},
{"title":{"text":"(E)","anchor":"start","fontSize":6.5,"offset":0},"spacing":30,
 "resolve":{"scale":{"color":"independent","shape":"independent"},"legend":{"color":"independent","shape":"independent"}},
 "hconcat":[
 {"width":212,"height":146,"title":"(i) Original  spectra at pH 10.0",
  "layer":[
   {"data":{"name":"s10"},"transform":[{"fold":["37°C","32°C","30°C","25°C"],"as":["T","a"]}],
    "layer":[
     {"mark":{"type":"line","color":"#000","strokeWidth":0.7},
      "encoding":{"x":{"field":"w","type":"quantitative","scale":{"domain":[200,800],"nice":false},"axis":{"tickCount":40,"labelOverlap":false,"values":[200,250,300,350,400,450,500,550,600,650,700,750,800],"offset":-29.2,"title":"Wavelength (nm)","titleFontWeight":"bold"}},
       "y":{"field":"a","type":"quantitative","scale":{"domain":[-0.05,0.2],"nice":false},"axis":{"tickCount":40,"labelOverlap":false,"values":[-0.05,0,0.05,0.1,0.15,0.2],"format":".2f","title":"Absorbance","titleFontWeight":"bold"}},
       "detail":{"field":"T"}}},
     {"mark":{"type":"point","filled":true,"color":"#000","size":6,"opacity":1},
      "encoding":{"x":{"field":"w","type":"quantitative"},"y":{"field":"a","type":"quantitative"},
       "shape":{"field":"T","type":"nominal","scale":{"domain":["37°C","32°C","30°C","25°C"],"range":["circle","square","triangle-up","diamond"]},"legend":{"orient":"none","legendX":38,"legendY":26,"title":null,"symbolSize":10,"labelFontSize":5.5}}}},
     {"data":{"name":"e10"},"mark":{"type":"rule","color":"#000","strokeWidth":0.6},
      "encoding":{"x":{"field":"w","type":"quantitative"},"y":{"field":"lo","type":"quantitative"},"y2":{"field":"hi"}}}
    ]},
   {"layer":[
     {"data":{"values":[{}]},"mark":{"type":"rule","color":"#888","strokeWidth":0.5},
      "encoding":{"x":{"datum":200,"type":"quantitative","scale":{"domain":[54.2,353],"nice":false},"axis":{"tickCount":40,"labelOverlap":false,"orient":"bottom","offset":-51.1,"values":[250,300,350],"domain":false,"title":"Wavelength (nm)","labelFontSize":3.2,"titleFontSize":3.2,"tickSize":1.5,"labelPadding":0.5,"titlePadding":0.5,"labelFlush":false}},
       "x2":{"datum":350},
       "y":{"datum":0,"type":"quantitative","scale":{"domain":[-0.182,0.339],"nice":false},"axis":{"tickCount":40,"labelOverlap":false,"orient":"left","offset":-103.5,"values":[0,0.1,0.2],"format":".1f","domain":false,"title":"Absorbance","labelFontSize":3.2,"titleFontSize":3.2,"tickSize":1.5,"labelPadding":0.5,"titlePadding":0.5}}}},
     {"data":{"values":[{}]},"mark":{"type":"rule","color":"#000","strokeWidth":0.5},
      "encoding":{"x":{"datum":200,"type":"quantitative"},"y":{"datum":-0.05,"type":"quantitative"},"y2":{"datum":0.2}}},
     {"data":{"name":"s10"},"transform":[{"fold":["37°C","32°C","30°C","25°C"],"as":["T","a"]},{"filter":"datum.w <= 350"}],
      "mark":{"type":"line","color":"#000","strokeWidth":0.5},
      "encoding":{"x":{"field":"w","type":"quantitative"},"y":{"field":"a","type":"quantitative"},"detail":{"field":"T"}}},
     {"data":{"name":"s10"},"transform":[{"fold":["37°C","32°C","30°C","25°C"],"as":["T","a"]},{"filter":"datum.w <= 350"}],
      "mark":{"type":"point","shape":"square","filled":true,"color":"#000","size":3,"opacity":1},
      "encoding":{"x":{"field":"w","type":"quantitative"},"y":{"field":"a","type":"quantitative"}}},
     {"data":{"name":"e10"},"transform":[{"filter":"datum.w <= 350"}],"mark":{"type":"rule","color":"#000","strokeWidth":0.5},
      "encoding":{"x":{"field":"w","type":"quantitative"},"y":{"field":"lo","type":"quantitative"},"y2":{"field":"hi"}}}
   ]}
  ],
  "resolve":{"scale":{"x":"independent","y":"independent"}}},
 {"spacing":4,
  "resolve":{"scale":{"color":"independent"},"legend":{"color":"independent"}},
  "hconcat":[
  {"width":172,"height":146,"title":{"text":"(ii) Fourth derivative spectra at pH 10.0 (200-350 nm)","fontWeight":"normal"},
   "layer":[
    {"data":{"name":"d10"},"transform":[{"fold":["25°C","30°C","32°C","37°C"],"as":["T","v"]}],
     "mark":{"type":"line","strokeWidth":0.9},
     "encoding":{"x":{"field":"w","type":"quantitative","scale":{"domain":[200,350],"nice":false},"axis":{"tickCount":40,"labelOverlap":false,"values":[210,220,230,240,250,260,270,280,290,300,310,320,330,340,350],"labelExpr":"datum.value % 50 == 0 ? datum.label : ''","offset":-97.3,"title":"Wavelength (nm)","titleY":23,"titleFontWeight":"bold","domainWidth":1.3}},
      "y":{"field":"v","type":"quantitative","scale":{"domain":[-0.00006,0.00003],"nice":false},"axis":{"tickCount":40,"labelOverlap":false,"values":[-0.00006,-0.00005,-0.00004,-0.00003,-0.00002,-0.00001,0,0.00001,0.00002,0.00003],"labelExpr":"abs(datum.value) < 1e-9 || abs(datum.value + 0.00005) < 1e-9 ? datum.label : ''","format":".5f","title":"Derivative values"}},
      "color":{"field":"T","type":"nominal","scale":{"domain":["25°C","30°C","32°C","37°C"],"range":["#2e2e2e","#a43cbf","#7fd8f4","#4b6be6"]},"legend":{"orient":"none","legendX":20,"legendY":-12,"direction":"horizontal","title":null,"symbolType":"stroke","symbolStrokeWidth":1.5,"symbolSize":144}}}},
    {"data":{"values":[{}]},"mark":{"type":"text","align":"left","baseline":"top","fontSize":4.7,"fontWeight":"bold","lineHeight":6.5,"color":"#000"},
     "encoding":{"x":{"datum":213,"type":"quantitative"},"y":{"datum":0.000029,"type":"quantitative"},"text":{"value":["Peaks: 25°C (210 and 220 nm), 30°C (220 nm), 32°C (220","nm), 37°C (220 nm)"]}}}
   ]},
  {"width":226,"height":146,"title":"Fourth derivative spectra at pH 10.0 (240-310 nm)",
   "layer":[
    {"data":{"name":"d10"},"transform":[{"fold":["25°C","30°C","32°C","37°C"],"as":["T","v"]},{"filter":"datum.w >= 240 && datum.w <= 310"}],
     "mark":{"type":"line","strokeWidth":0.9},
     "encoding":{"x":{"field":"w","type":"quantitative","scale":{"domain":[240,310],"nice":false},"axis":{"tickCount":40,"labelOverlap":false,"values":[250,260,270,280,290,300,310],"offset":-57,"title":"Wavelength (nm)","titleY":48,"titleFontWeight":"bold","domainWidth":1.3}},
      "y":{"field":"v","type":"quantitative","scale":{"domain":[-0.000016,0.000025],"nice":false},"axis":{"tickCount":40,"labelOverlap":false,"values":[-0.000015,-0.00001,-0.000005,0,0.000005,0.00001,0.000015,0.00002,0.000025],"labelExpr":"abs(datum.value) < 1e-10 || abs(abs(datum.value) - 0.00001) < 1e-10 || abs(datum.value - 0.00002) < 1e-10 ? datum.label : ''","format":".5f","title":"Derivative values"}},
      "color":{"field":"T","type":"nominal","scale":{"domain":["25°C","30°C","32°C","37°C"],"range":["#2e2e2e","#a43cbf","#7fd8f4","#4b6be6"]},"legend":{"orient":"none","legendX":48,"legendY":-12,"direction":"horizontal","title":null,"symbolType":"stroke","symbolStrokeWidth":1.5,"symbolSize":144}}}},
    {"data":{"name":"dividers"},"mark":{"type":"rule","strokeDash":[1.5,1.5],"color":"#333","strokeWidth":0.8},"encoding":{"x":{"field":"w","type":"quantitative"}}},
    {"data":{"name":"regions"},"mark":{"type":"text","fontSize":5.5,"color":"#333"},"encoding":{"x":{"field":"w","type":"quantitative"},"y":{"datum":0.000022,"type":"quantitative"},"text":{"field":"label"}}},
    {"data":{"name":"starsE"},"mark":{"type":"point","shape":"circle","filled":true,"color":"#f4f0b8","opacity":0.85,"size":110},"encoding":{"x":{"field":"w","type":"quantitative"},"y":{"field":"v","type":"quantitative"}}},
    {"data":{"name":"starsE"},"mark":{"type":"point","shape":"M0,-1L0.2245,-0.309L0.951,-0.309L0.363,0.118L0.588,0.809L0,0.382L-0.588,0.809L-0.363,0.118L-0.951,-0.309L-0.2245,-0.309Z","filled":true,"color":"#7a1f6f","opacity":1,"size":45},"encoding":{"x":{"field":"w","type":"quantitative"},"y":{"field":"v","type":"quantitative"}}}
   ]}
 ]}
 ]}
]
}
